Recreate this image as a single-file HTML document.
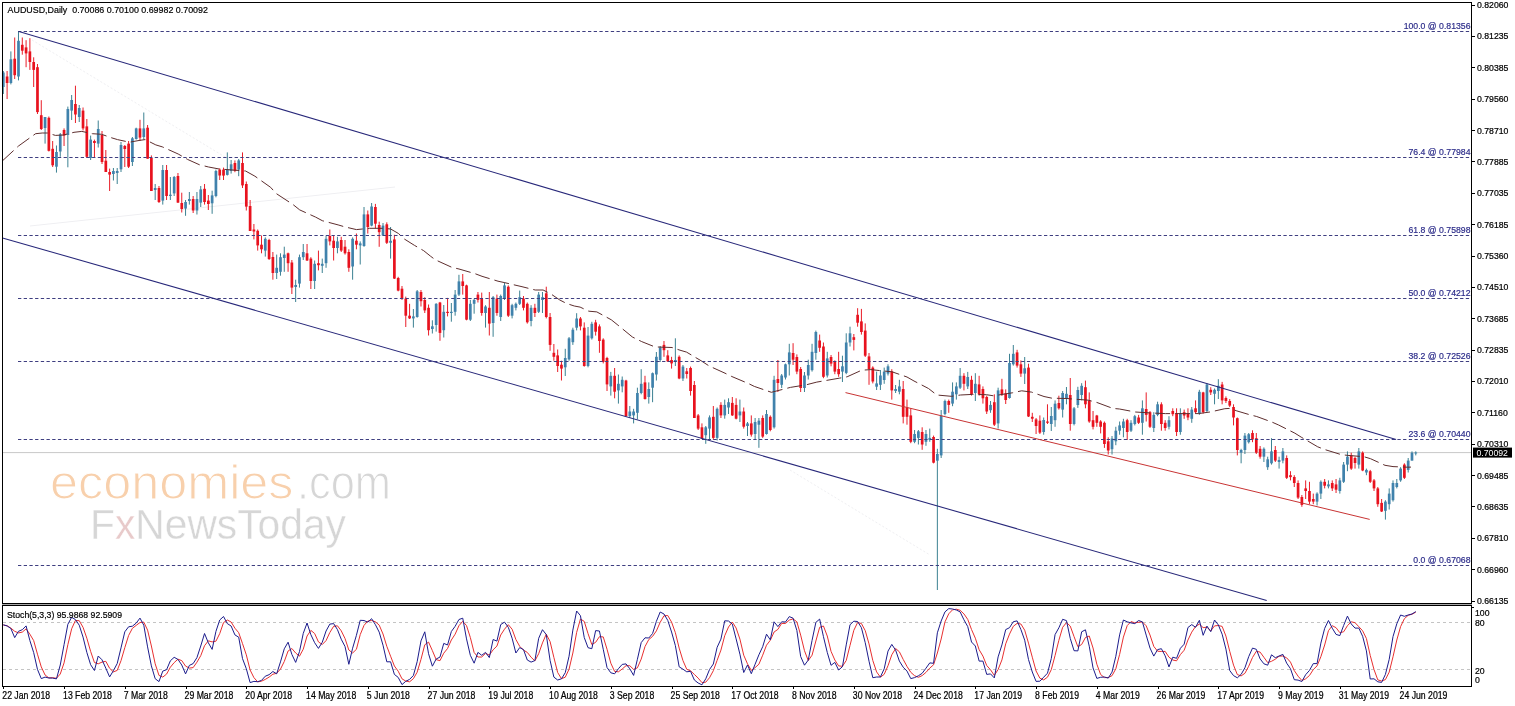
<!DOCTYPE html><html><head><meta charset="utf-8"><title>AUDUSD,Daily</title><style>html,body{margin:0;padding:0;background:#fff;}svg{display:block;filter:blur(0.35px);}text{font-family:"Liberation Sans", Arial, sans-serif;}</style></head><body>
<svg width="1515" height="706" viewBox="0 0 1515 706">
<rect x="0" y="0" width="1515" height="706" fill="#fff"/>
<g stroke="#efeff2" stroke-width="1" fill="none">
<line x1="30" y1="226" x2="395" y2="187"/>
<line x1="32" y1="40" x2="230" y2="160" stroke-dasharray="2 2"/>
<line x1="790" y1="470" x2="930" y2="555" stroke-dasharray="2 2"/>
</g>
<line x1="2" y1="452.6" x2="1471" y2="452.6" stroke="#c8c8c8" stroke-width="1"/>
<g opacity="1">
<text x="50" y="499.2" font-size="49" fill="#f8d0ac" stroke="#fff" stroke-width="1.1" textLength="243.5" lengthAdjust="spacingAndGlyphs">economies</text>
<text x="297" y="499.2" font-size="49" fill="#d6d6d6" stroke="#fff" stroke-width="1.1" textLength="94" lengthAdjust="spacingAndGlyphs">.com</text>
<text x="90" y="539.3" font-size="42.2" fill="#d6d6d6" stroke="#fff" stroke-width="0.4" textLength="256" lengthAdjust="spacingAndGlyphs">F<tspan fill="#e8caca">x</tspan>NewsToday</text>
</g>
<g>
<line x1="3.30" y1="71.0" x2="3.30" y2="94.0" stroke="#317a8c" stroke-width="0.95"/>
<rect x="1.95" y="72.5" width="2.7" height="14.5" fill="#4082ac"/>
<line x1="7.10" y1="71.0" x2="7.10" y2="99.0" stroke="#e8121e" stroke-width="0.95"/>
<rect x="5.75" y="76.5" width="2.7" height="6.5" fill="#e8121e"/>
<line x1="10.89" y1="51.4" x2="10.89" y2="84.4" stroke="#317a8c" stroke-width="0.95"/>
<rect x="9.54" y="59.3" width="2.7" height="23.7" fill="#4082ac"/>
<line x1="14.69" y1="37.5" x2="14.69" y2="79.0" stroke="#e8121e" stroke-width="0.95"/>
<rect x="13.34" y="58.7" width="2.7" height="16.5" fill="#e8121e"/>
<line x1="18.49" y1="31.0" x2="18.49" y2="80.4" stroke="#317a8c" stroke-width="0.95"/>
<rect x="17.14" y="40.8" width="2.7" height="35.7" fill="#4082ac"/>
<line x1="22.29" y1="37.5" x2="22.29" y2="54.7" stroke="#e8121e" stroke-width="0.95"/>
<rect x="20.93" y="44.8" width="2.7" height="5.9" fill="#e8121e"/>
<line x1="26.08" y1="40.2" x2="26.08" y2="67.2" stroke="#e8121e" stroke-width="0.95"/>
<rect x="24.73" y="47.4" width="2.7" height="6.0" fill="#e8121e"/>
<line x1="29.88" y1="38.2" x2="29.88" y2="69.9" stroke="#e8121e" stroke-width="0.95"/>
<rect x="28.53" y="51.4" width="2.7" height="10.6" fill="#e8121e"/>
<line x1="33.68" y1="57.3" x2="33.68" y2="87.0" stroke="#e8121e" stroke-width="0.95"/>
<rect x="32.33" y="62.0" width="2.7" height="7.9" fill="#e8121e"/>
<line x1="37.47" y1="64.0" x2="37.47" y2="114.0" stroke="#e8121e" stroke-width="0.95"/>
<rect x="36.12" y="67.2" width="2.7" height="44.9" fill="#e8121e"/>
<line x1="41.27" y1="100.2" x2="41.27" y2="130.0" stroke="#e8121e" stroke-width="0.95"/>
<rect x="39.92" y="115.2" width="2.7" height="13.8" fill="#e8121e"/>
<line x1="45.07" y1="117.0" x2="45.07" y2="143.6" stroke="#317a8c" stroke-width="0.95"/>
<rect x="43.72" y="117.0" width="2.7" height="11.0" fill="#4082ac"/>
<line x1="48.86" y1="116.5" x2="48.86" y2="151.5" stroke="#e8121e" stroke-width="0.95"/>
<rect x="47.51" y="117.8" width="2.7" height="33.0" fill="#e8121e"/>
<line x1="52.66" y1="141.0" x2="52.66" y2="167.0" stroke="#e8121e" stroke-width="0.95"/>
<rect x="51.31" y="148.8" width="2.7" height="16.5" fill="#e8121e"/>
<line x1="56.46" y1="145.5" x2="56.46" y2="172.6" stroke="#317a8c" stroke-width="0.95"/>
<rect x="55.11" y="152.0" width="2.7" height="14.7" fill="#4082ac"/>
<line x1="60.26" y1="133.0" x2="60.26" y2="156.8" stroke="#317a8c" stroke-width="0.95"/>
<rect x="58.91" y="134.3" width="2.7" height="17.2" fill="#4082ac"/>
<line x1="64.05" y1="128.4" x2="64.05" y2="146.0" stroke="#e8121e" stroke-width="0.95"/>
<rect x="62.70" y="130.0" width="2.7" height="5.6" fill="#e8121e"/>
<line x1="67.85" y1="106.6" x2="67.85" y2="167.3" stroke="#317a8c" stroke-width="0.95"/>
<rect x="66.50" y="109.0" width="2.7" height="26.0" fill="#4082ac"/>
<line x1="71.65" y1="95.0" x2="71.65" y2="120.0" stroke="#317a8c" stroke-width="0.95"/>
<rect x="70.30" y="100.0" width="2.7" height="10.6" fill="#4082ac"/>
<line x1="75.44" y1="85.7" x2="75.44" y2="123.0" stroke="#e8121e" stroke-width="0.95"/>
<rect x="74.09" y="104.0" width="2.7" height="10.5" fill="#e8121e"/>
<line x1="79.24" y1="105.0" x2="79.24" y2="122.0" stroke="#317a8c" stroke-width="0.95"/>
<rect x="77.89" y="108.0" width="2.7" height="9.0" fill="#4082ac"/>
<line x1="83.04" y1="107.5" x2="83.04" y2="130.4" stroke="#e8121e" stroke-width="0.95"/>
<rect x="81.69" y="110.6" width="2.7" height="17.8" fill="#e8121e"/>
<line x1="86.83" y1="119.0" x2="86.83" y2="158.0" stroke="#e8121e" stroke-width="0.95"/>
<rect x="85.48" y="126.4" width="2.7" height="30.4" fill="#e8121e"/>
<line x1="90.63" y1="135.6" x2="90.63" y2="160.0" stroke="#317a8c" stroke-width="0.95"/>
<rect x="89.28" y="139.6" width="2.7" height="18.4" fill="#4082ac"/>
<line x1="94.43" y1="139.6" x2="94.43" y2="158.0" stroke="#e8121e" stroke-width="0.95"/>
<rect x="93.08" y="141.0" width="2.7" height="2.0" fill="#e8121e"/>
<line x1="98.22" y1="120.5" x2="98.22" y2="147.5" stroke="#317a8c" stroke-width="0.95"/>
<rect x="96.88" y="129.0" width="2.7" height="14.6" fill="#4082ac"/>
<line x1="102.02" y1="131.0" x2="102.02" y2="164.0" stroke="#e8121e" stroke-width="0.95"/>
<rect x="100.67" y="135.0" width="2.7" height="27.0" fill="#e8121e"/>
<line x1="105.82" y1="150.0" x2="105.82" y2="172.0" stroke="#e8121e" stroke-width="0.95"/>
<rect x="104.47" y="160.7" width="2.7" height="11.3" fill="#e8121e"/>
<line x1="109.62" y1="168.6" x2="109.62" y2="191.0" stroke="#e8121e" stroke-width="0.95"/>
<rect x="108.27" y="172.0" width="2.7" height="2.6" fill="#e8121e"/>
<line x1="113.41" y1="168.0" x2="113.41" y2="180.5" stroke="#317a8c" stroke-width="0.95"/>
<rect x="112.06" y="171.0" width="2.7" height="3.0" fill="#4082ac"/>
<line x1="117.21" y1="168.0" x2="117.21" y2="184.0" stroke="#317a8c" stroke-width="0.95"/>
<rect x="115.86" y="171.0" width="2.7" height="2.0" fill="#4082ac"/>
<line x1="121.01" y1="142.0" x2="121.01" y2="172.0" stroke="#317a8c" stroke-width="0.95"/>
<rect x="119.66" y="145.0" width="2.7" height="24.3" fill="#4082ac"/>
<line x1="124.80" y1="145.0" x2="124.80" y2="167.0" stroke="#e8121e" stroke-width="0.95"/>
<rect x="123.45" y="146.0" width="2.7" height="3.0" fill="#e8121e"/>
<line x1="128.60" y1="141.0" x2="128.60" y2="168.0" stroke="#e8121e" stroke-width="0.95"/>
<rect x="127.25" y="143.6" width="2.7" height="23.1" fill="#e8121e"/>
<line x1="132.40" y1="137.0" x2="132.40" y2="166.0" stroke="#317a8c" stroke-width="0.95"/>
<rect x="131.05" y="138.3" width="2.7" height="23.7" fill="#4082ac"/>
<line x1="136.20" y1="127.7" x2="136.20" y2="139.6" stroke="#317a8c" stroke-width="0.95"/>
<rect x="134.85" y="128.4" width="2.7" height="10.6" fill="#4082ac"/>
<line x1="139.99" y1="119.8" x2="139.99" y2="141.0" stroke="#e8121e" stroke-width="0.95"/>
<rect x="138.64" y="128.4" width="2.7" height="9.2" fill="#e8121e"/>
<line x1="143.79" y1="112.5" x2="143.79" y2="139.6" stroke="#317a8c" stroke-width="0.95"/>
<rect x="142.44" y="128.4" width="2.7" height="8.6" fill="#4082ac"/>
<line x1="147.59" y1="125.0" x2="147.59" y2="158.7" stroke="#e8121e" stroke-width="0.95"/>
<rect x="146.24" y="127.7" width="2.7" height="31.0" fill="#e8121e"/>
<line x1="151.38" y1="155.4" x2="151.38" y2="191.0" stroke="#e8121e" stroke-width="0.95"/>
<rect x="150.03" y="158.0" width="2.7" height="33.0" fill="#e8121e"/>
<line x1="155.18" y1="184.0" x2="155.18" y2="200.0" stroke="#317a8c" stroke-width="0.95"/>
<rect x="153.83" y="188.0" width="2.7" height="2.0" fill="#4082ac"/>
<line x1="158.98" y1="186.0" x2="158.98" y2="203.0" stroke="#e8121e" stroke-width="0.95"/>
<rect x="157.63" y="188.0" width="2.7" height="14.0" fill="#e8121e"/>
<line x1="162.77" y1="165.0" x2="162.77" y2="204.6" stroke="#317a8c" stroke-width="0.95"/>
<rect x="161.42" y="170.0" width="2.7" height="30.6" fill="#4082ac"/>
<line x1="166.57" y1="165.0" x2="166.57" y2="200.0" stroke="#e8121e" stroke-width="0.95"/>
<rect x="165.22" y="170.0" width="2.7" height="26.0" fill="#e8121e"/>
<line x1="170.37" y1="177.0" x2="170.37" y2="200.0" stroke="#317a8c" stroke-width="0.95"/>
<rect x="169.02" y="194.7" width="2.7" height="1.3" fill="#4082ac"/>
<line x1="174.17" y1="176.0" x2="174.17" y2="196.0" stroke="#317a8c" stroke-width="0.95"/>
<rect x="172.82" y="177.0" width="2.7" height="16.4" fill="#4082ac"/>
<line x1="177.96" y1="173.0" x2="177.96" y2="203.0" stroke="#e8121e" stroke-width="0.95"/>
<rect x="176.61" y="176.0" width="2.7" height="26.6" fill="#e8121e"/>
<line x1="181.76" y1="192.7" x2="181.76" y2="212.5" stroke="#e8121e" stroke-width="0.95"/>
<rect x="180.41" y="203.0" width="2.7" height="6.0" fill="#e8121e"/>
<line x1="185.56" y1="200.0" x2="185.56" y2="215.8" stroke="#317a8c" stroke-width="0.95"/>
<rect x="184.21" y="202.0" width="2.7" height="6.6" fill="#4082ac"/>
<line x1="189.35" y1="192.0" x2="189.35" y2="204.6" stroke="#317a8c" stroke-width="0.95"/>
<rect x="188.00" y="199.0" width="2.7" height="2.0" fill="#4082ac"/>
<line x1="193.15" y1="196.0" x2="193.15" y2="213.0" stroke="#e8121e" stroke-width="0.95"/>
<rect x="191.80" y="199.0" width="2.7" height="11.5" fill="#e8121e"/>
<line x1="196.95" y1="192.0" x2="196.95" y2="214.5" stroke="#317a8c" stroke-width="0.95"/>
<rect x="195.60" y="199.0" width="2.7" height="11.5" fill="#4082ac"/>
<line x1="200.74" y1="186.0" x2="200.74" y2="207.0" stroke="#317a8c" stroke-width="0.95"/>
<rect x="199.39" y="189.4" width="2.7" height="13.2" fill="#4082ac"/>
<line x1="204.54" y1="184.0" x2="204.54" y2="204.6" stroke="#e8121e" stroke-width="0.95"/>
<rect x="203.19" y="188.8" width="2.7" height="13.2" fill="#e8121e"/>
<line x1="208.34" y1="195.0" x2="208.34" y2="210.0" stroke="#e8121e" stroke-width="0.95"/>
<rect x="206.99" y="200.6" width="2.7" height="3.4" fill="#e8121e"/>
<line x1="212.14" y1="190.7" x2="212.14" y2="213.8" stroke="#317a8c" stroke-width="0.95"/>
<rect x="210.79" y="195.4" width="2.7" height="7.9" fill="#4082ac"/>
<line x1="215.93" y1="169.6" x2="215.93" y2="197.3" stroke="#317a8c" stroke-width="0.95"/>
<rect x="214.58" y="171.0" width="2.7" height="25.0" fill="#4082ac"/>
<line x1="219.73" y1="168.3" x2="219.73" y2="180.0" stroke="#e8121e" stroke-width="0.95"/>
<rect x="218.38" y="169.6" width="2.7" height="5.9" fill="#e8121e"/>
<line x1="223.53" y1="167.6" x2="223.53" y2="180.0" stroke="#e8121e" stroke-width="0.95"/>
<rect x="222.18" y="169.6" width="2.7" height="6.0" fill="#e8121e"/>
<line x1="227.32" y1="152.4" x2="227.32" y2="175.5" stroke="#317a8c" stroke-width="0.95"/>
<rect x="225.97" y="169.6" width="2.7" height="5.3" fill="#4082ac"/>
<line x1="231.12" y1="160.0" x2="231.12" y2="173.6" stroke="#317a8c" stroke-width="0.95"/>
<rect x="229.77" y="164.3" width="2.7" height="6.7" fill="#4082ac"/>
<line x1="234.92" y1="160.4" x2="234.92" y2="172.2" stroke="#e8121e" stroke-width="0.95"/>
<rect x="233.57" y="163.0" width="2.7" height="8.0" fill="#e8121e"/>
<line x1="238.71" y1="159.0" x2="238.71" y2="176.2" stroke="#317a8c" stroke-width="0.95"/>
<rect x="237.36" y="160.4" width="2.7" height="9.2" fill="#4082ac"/>
<line x1="242.51" y1="152.4" x2="242.51" y2="188.0" stroke="#e8121e" stroke-width="0.95"/>
<rect x="241.16" y="163.0" width="2.7" height="22.4" fill="#e8121e"/>
<line x1="246.31" y1="181.5" x2="246.31" y2="210.5" stroke="#e8121e" stroke-width="0.95"/>
<rect x="244.96" y="184.0" width="2.7" height="22.6" fill="#e8121e"/>
<line x1="250.11" y1="200.0" x2="250.11" y2="231.0" stroke="#e8121e" stroke-width="0.95"/>
<rect x="248.76" y="206.0" width="2.7" height="25.0" fill="#e8121e"/>
<line x1="253.90" y1="224.0" x2="253.90" y2="239.4" stroke="#e8121e" stroke-width="0.95"/>
<rect x="252.55" y="229.5" width="2.7" height="2.0" fill="#e8121e"/>
<line x1="257.70" y1="229.5" x2="257.70" y2="250.6" stroke="#e8121e" stroke-width="0.95"/>
<rect x="256.35" y="230.8" width="2.7" height="14.6" fill="#e8121e"/>
<line x1="261.50" y1="235.5" x2="261.50" y2="253.3" stroke="#e8121e" stroke-width="0.95"/>
<rect x="260.15" y="244.7" width="2.7" height="4.6" fill="#e8121e"/>
<line x1="265.29" y1="237.4" x2="265.29" y2="256.6" stroke="#317a8c" stroke-width="0.95"/>
<rect x="263.94" y="238.8" width="2.7" height="11.8" fill="#4082ac"/>
<line x1="269.09" y1="238.8" x2="269.09" y2="260.0" stroke="#e8121e" stroke-width="0.95"/>
<rect x="267.74" y="240.0" width="2.7" height="19.0" fill="#e8121e"/>
<line x1="272.89" y1="252.0" x2="272.89" y2="279.7" stroke="#e8121e" stroke-width="0.95"/>
<rect x="271.54" y="257.0" width="2.7" height="16.0" fill="#e8121e"/>
<line x1="276.68" y1="254.6" x2="276.68" y2="279.0" stroke="#317a8c" stroke-width="0.95"/>
<rect x="275.33" y="267.8" width="2.7" height="5.2" fill="#4082ac"/>
<line x1="280.48" y1="253.3" x2="280.48" y2="275.7" stroke="#317a8c" stroke-width="0.95"/>
<rect x="279.13" y="257.2" width="2.7" height="14.6" fill="#4082ac"/>
<line x1="284.28" y1="246.7" x2="284.28" y2="271.8" stroke="#317a8c" stroke-width="0.95"/>
<rect x="282.93" y="254.6" width="2.7" height="3.4" fill="#4082ac"/>
<line x1="288.08" y1="252.6" x2="288.08" y2="271.8" stroke="#e8121e" stroke-width="0.95"/>
<rect x="286.73" y="253.3" width="2.7" height="9.9" fill="#e8121e"/>
<line x1="291.87" y1="260.0" x2="291.87" y2="294.0" stroke="#e8121e" stroke-width="0.95"/>
<rect x="290.52" y="262.5" width="2.7" height="25.1" fill="#e8121e"/>
<line x1="295.67" y1="279.7" x2="295.67" y2="302.0" stroke="#317a8c" stroke-width="0.95"/>
<rect x="294.32" y="285.0" width="2.7" height="2.0" fill="#4082ac"/>
<line x1="299.47" y1="254.6" x2="299.47" y2="287.6" stroke="#317a8c" stroke-width="0.95"/>
<rect x="298.12" y="257.2" width="2.7" height="26.4" fill="#4082ac"/>
<line x1="303.26" y1="244.0" x2="303.26" y2="260.0" stroke="#317a8c" stroke-width="0.95"/>
<rect x="301.91" y="252.0" width="2.7" height="5.2" fill="#4082ac"/>
<line x1="307.06" y1="244.0" x2="307.06" y2="261.0" stroke="#e8121e" stroke-width="0.95"/>
<rect x="305.71" y="253.3" width="2.7" height="7.2" fill="#e8121e"/>
<line x1="310.86" y1="257.2" x2="310.86" y2="289.0" stroke="#e8121e" stroke-width="0.95"/>
<rect x="309.51" y="258.6" width="2.7" height="22.4" fill="#e8121e"/>
<line x1="314.65" y1="260.5" x2="314.65" y2="289.0" stroke="#317a8c" stroke-width="0.95"/>
<rect x="313.30" y="263.8" width="2.7" height="17.2" fill="#4082ac"/>
<line x1="318.45" y1="250.6" x2="318.45" y2="270.4" stroke="#e8121e" stroke-width="0.95"/>
<rect x="317.10" y="263.2" width="2.7" height="2.0" fill="#e8121e"/>
<line x1="322.25" y1="258.6" x2="322.25" y2="273.0" stroke="#317a8c" stroke-width="0.95"/>
<rect x="320.90" y="263.8" width="2.7" height="2.0" fill="#4082ac"/>
<line x1="326.05" y1="236.0" x2="326.05" y2="267.8" stroke="#317a8c" stroke-width="0.95"/>
<rect x="324.69" y="238.8" width="2.7" height="24.4" fill="#4082ac"/>
<line x1="329.84" y1="229.5" x2="329.84" y2="245.4" stroke="#e8121e" stroke-width="0.95"/>
<rect x="328.49" y="236.0" width="2.7" height="5.4" fill="#e8121e"/>
<line x1="333.64" y1="236.0" x2="333.64" y2="260.5" stroke="#e8121e" stroke-width="0.95"/>
<rect x="332.29" y="240.7" width="2.7" height="7.3" fill="#e8121e"/>
<line x1="337.44" y1="236.8" x2="337.44" y2="253.3" stroke="#317a8c" stroke-width="0.95"/>
<rect x="336.09" y="241.4" width="2.7" height="6.6" fill="#4082ac"/>
<line x1="341.23" y1="236.8" x2="341.23" y2="252.0" stroke="#e8121e" stroke-width="0.95"/>
<rect x="339.88" y="240.0" width="2.7" height="10.6" fill="#e8121e"/>
<line x1="345.03" y1="240.0" x2="345.03" y2="254.6" stroke="#e8121e" stroke-width="0.95"/>
<rect x="343.68" y="246.7" width="2.7" height="6.6" fill="#e8121e"/>
<line x1="348.83" y1="249.3" x2="348.83" y2="271.8" stroke="#e8121e" stroke-width="0.95"/>
<rect x="347.48" y="252.0" width="2.7" height="15.8" fill="#e8121e"/>
<line x1="352.62" y1="237.4" x2="352.62" y2="279.7" stroke="#317a8c" stroke-width="0.95"/>
<rect x="351.27" y="238.8" width="2.7" height="27.7" fill="#4082ac"/>
<line x1="356.42" y1="233.5" x2="356.42" y2="249.3" stroke="#e8121e" stroke-width="0.95"/>
<rect x="355.07" y="240.7" width="2.7" height="4.0" fill="#e8121e"/>
<line x1="360.22" y1="241.4" x2="360.22" y2="264.5" stroke="#317a8c" stroke-width="0.95"/>
<rect x="358.87" y="243.4" width="2.7" height="2.0" fill="#4082ac"/>
<line x1="364.02" y1="207.0" x2="364.02" y2="246.8" stroke="#317a8c" stroke-width="0.95"/>
<rect x="362.67" y="214.4" width="2.7" height="31.6" fill="#4082ac"/>
<line x1="367.81" y1="210.5" x2="367.81" y2="233.6" stroke="#e8121e" stroke-width="0.95"/>
<rect x="366.46" y="214.4" width="2.7" height="12.6" fill="#e8121e"/>
<line x1="371.61" y1="203.0" x2="371.61" y2="226.3" stroke="#317a8c" stroke-width="0.95"/>
<rect x="370.26" y="206.5" width="2.7" height="19.1" fill="#4082ac"/>
<line x1="375.41" y1="203.9" x2="375.41" y2="228.3" stroke="#e8121e" stroke-width="0.95"/>
<rect x="374.06" y="207.0" width="2.7" height="16.7" fill="#e8121e"/>
<line x1="379.20" y1="221.7" x2="379.20" y2="246.8" stroke="#e8121e" stroke-width="0.95"/>
<rect x="377.85" y="225.0" width="2.7" height="7.2" fill="#e8121e"/>
<line x1="383.00" y1="223.0" x2="383.00" y2="236.0" stroke="#317a8c" stroke-width="0.95"/>
<rect x="381.65" y="225.6" width="2.7" height="9.9" fill="#4082ac"/>
<line x1="386.80" y1="222.3" x2="386.80" y2="244.0" stroke="#e8121e" stroke-width="0.95"/>
<rect x="385.45" y="224.3" width="2.7" height="18.5" fill="#e8121e"/>
<line x1="390.59" y1="227.0" x2="390.59" y2="258.6" stroke="#317a8c" stroke-width="0.95"/>
<rect x="389.24" y="240.8" width="2.7" height="2.0" fill="#4082ac"/>
<line x1="394.39" y1="234.8" x2="394.39" y2="279.0" stroke="#e8121e" stroke-width="0.95"/>
<rect x="393.04" y="239.4" width="2.7" height="39.2" fill="#e8121e"/>
<line x1="398.19" y1="276.8" x2="398.19" y2="291.3" stroke="#e8121e" stroke-width="0.95"/>
<rect x="396.84" y="278.0" width="2.7" height="12.6" fill="#e8121e"/>
<line x1="401.99" y1="286.0" x2="401.99" y2="300.0" stroke="#e8121e" stroke-width="0.95"/>
<rect x="400.63" y="288.7" width="2.7" height="9.9" fill="#e8121e"/>
<line x1="405.78" y1="296.6" x2="405.78" y2="327.0" stroke="#e8121e" stroke-width="0.95"/>
<rect x="404.43" y="298.6" width="2.7" height="17.1" fill="#e8121e"/>
<line x1="409.58" y1="303.8" x2="409.58" y2="319.0" stroke="#e8121e" stroke-width="0.95"/>
<rect x="408.23" y="315.7" width="2.7" height="2.7" fill="#e8121e"/>
<line x1="413.38" y1="309.0" x2="413.38" y2="327.6" stroke="#317a8c" stroke-width="0.95"/>
<rect x="412.03" y="316.4" width="2.7" height="2.0" fill="#4082ac"/>
<line x1="417.17" y1="290.0" x2="417.17" y2="317.7" stroke="#317a8c" stroke-width="0.95"/>
<rect x="415.82" y="291.3" width="2.7" height="25.7" fill="#4082ac"/>
<line x1="420.97" y1="290.0" x2="420.97" y2="306.5" stroke="#e8121e" stroke-width="0.95"/>
<rect x="419.62" y="292.0" width="2.7" height="9.2" fill="#e8121e"/>
<line x1="424.77" y1="297.2" x2="424.77" y2="313.0" stroke="#e8121e" stroke-width="0.95"/>
<rect x="423.42" y="300.0" width="2.7" height="10.4" fill="#e8121e"/>
<line x1="428.56" y1="304.5" x2="428.56" y2="335.5" stroke="#e8121e" stroke-width="0.95"/>
<rect x="427.21" y="307.8" width="2.7" height="22.4" fill="#e8121e"/>
<line x1="432.36" y1="320.3" x2="432.36" y2="333.5" stroke="#317a8c" stroke-width="0.95"/>
<rect x="431.01" y="326.3" width="2.7" height="2.7" fill="#4082ac"/>
<line x1="436.16" y1="303.2" x2="436.16" y2="331.6" stroke="#317a8c" stroke-width="0.95"/>
<rect x="434.81" y="303.8" width="2.7" height="21.2" fill="#4082ac"/>
<line x1="439.96" y1="301.9" x2="439.96" y2="340.8" stroke="#e8121e" stroke-width="0.95"/>
<rect x="438.61" y="302.5" width="2.7" height="30.4" fill="#e8121e"/>
<line x1="443.75" y1="305.0" x2="443.75" y2="337.5" stroke="#317a8c" stroke-width="0.95"/>
<rect x="442.40" y="311.8" width="2.7" height="18.4" fill="#4082ac"/>
<line x1="447.55" y1="297.9" x2="447.55" y2="316.4" stroke="#e8121e" stroke-width="0.95"/>
<rect x="446.20" y="311.8" width="2.7" height="1.2" fill="#e8121e"/>
<line x1="451.35" y1="303.0" x2="451.35" y2="321.7" stroke="#317a8c" stroke-width="0.95"/>
<rect x="450.00" y="311.8" width="2.7" height="1.2" fill="#4082ac"/>
<line x1="455.14" y1="290.0" x2="455.14" y2="315.7" stroke="#317a8c" stroke-width="0.95"/>
<rect x="453.79" y="294.6" width="2.7" height="17.2" fill="#4082ac"/>
<line x1="458.94" y1="274.8" x2="458.94" y2="296.0" stroke="#317a8c" stroke-width="0.95"/>
<rect x="457.59" y="281.4" width="2.7" height="13.2" fill="#4082ac"/>
<line x1="462.74" y1="274.0" x2="462.74" y2="294.6" stroke="#e8121e" stroke-width="0.95"/>
<rect x="461.39" y="281.4" width="2.7" height="4.6" fill="#e8121e"/>
<line x1="466.53" y1="284.7" x2="466.53" y2="320.3" stroke="#e8121e" stroke-width="0.95"/>
<rect x="465.18" y="285.4" width="2.7" height="34.3" fill="#e8121e"/>
<line x1="470.33" y1="299.9" x2="470.33" y2="321.0" stroke="#317a8c" stroke-width="0.95"/>
<rect x="468.98" y="303.8" width="2.7" height="15.9" fill="#4082ac"/>
<line x1="474.13" y1="298.6" x2="474.13" y2="313.7" stroke="#317a8c" stroke-width="0.95"/>
<rect x="472.78" y="299.9" width="2.7" height="3.9" fill="#4082ac"/>
<line x1="477.93" y1="292.0" x2="477.93" y2="302.5" stroke="#e8121e" stroke-width="0.95"/>
<rect x="476.57" y="294.6" width="2.7" height="5.3" fill="#e8121e"/>
<line x1="481.72" y1="292.6" x2="481.72" y2="315.7" stroke="#e8121e" stroke-width="0.95"/>
<rect x="480.37" y="298.6" width="2.7" height="14.4" fill="#e8121e"/>
<line x1="485.52" y1="305.2" x2="485.52" y2="327.6" stroke="#317a8c" stroke-width="0.95"/>
<rect x="484.17" y="306.5" width="2.7" height="6.5" fill="#4082ac"/>
<line x1="489.32" y1="292.0" x2="489.32" y2="335.5" stroke="#e8121e" stroke-width="0.95"/>
<rect x="487.97" y="307.8" width="2.7" height="15.8" fill="#e8121e"/>
<line x1="493.11" y1="296.0" x2="493.11" y2="336.8" stroke="#317a8c" stroke-width="0.95"/>
<rect x="491.76" y="297.2" width="2.7" height="25.8" fill="#4082ac"/>
<line x1="496.91" y1="294.6" x2="496.91" y2="315.7" stroke="#e8121e" stroke-width="0.95"/>
<rect x="495.56" y="298.6" width="2.7" height="14.4" fill="#e8121e"/>
<line x1="500.71" y1="294.6" x2="500.71" y2="321.0" stroke="#317a8c" stroke-width="0.95"/>
<rect x="499.36" y="296.0" width="2.7" height="21.0" fill="#4082ac"/>
<line x1="504.50" y1="282.7" x2="504.50" y2="300.0" stroke="#317a8c" stroke-width="0.95"/>
<rect x="503.15" y="285.4" width="2.7" height="13.2" fill="#4082ac"/>
<line x1="508.30" y1="285.4" x2="508.30" y2="317.0" stroke="#e8121e" stroke-width="0.95"/>
<rect x="506.95" y="286.7" width="2.7" height="29.0" fill="#e8121e"/>
<line x1="512.10" y1="303.8" x2="512.10" y2="318.4" stroke="#317a8c" stroke-width="0.95"/>
<rect x="510.75" y="305.2" width="2.7" height="10.5" fill="#4082ac"/>
<line x1="515.89" y1="302.5" x2="515.89" y2="310.4" stroke="#317a8c" stroke-width="0.95"/>
<rect x="514.54" y="303.8" width="2.7" height="4.0" fill="#4082ac"/>
<line x1="519.69" y1="290.6" x2="519.69" y2="305.0" stroke="#317a8c" stroke-width="0.95"/>
<rect x="518.34" y="297.2" width="2.7" height="6.6" fill="#4082ac"/>
<line x1="523.49" y1="296.0" x2="523.49" y2="310.4" stroke="#e8121e" stroke-width="0.95"/>
<rect x="522.14" y="298.6" width="2.7" height="9.2" fill="#e8121e"/>
<line x1="527.29" y1="302.5" x2="527.29" y2="323.6" stroke="#e8121e" stroke-width="0.95"/>
<rect x="525.94" y="303.8" width="2.7" height="18.5" fill="#e8121e"/>
<line x1="531.08" y1="305.2" x2="531.08" y2="326.3" stroke="#317a8c" stroke-width="0.95"/>
<rect x="529.73" y="307.8" width="2.7" height="13.2" fill="#4082ac"/>
<line x1="534.88" y1="303.8" x2="534.88" y2="317.0" stroke="#e8121e" stroke-width="0.95"/>
<rect x="533.53" y="307.8" width="2.7" height="5.2" fill="#e8121e"/>
<line x1="538.68" y1="292.0" x2="538.68" y2="313.0" stroke="#317a8c" stroke-width="0.95"/>
<rect x="537.33" y="294.6" width="2.7" height="17.2" fill="#4082ac"/>
<line x1="542.47" y1="292.0" x2="542.47" y2="313.0" stroke="#317a8c" stroke-width="0.95"/>
<rect x="541.12" y="297.2" width="2.7" height="2.8" fill="#4082ac"/>
<line x1="546.27" y1="286.7" x2="546.27" y2="318.4" stroke="#e8121e" stroke-width="0.95"/>
<rect x="544.92" y="293.3" width="2.7" height="23.7" fill="#e8121e"/>
<line x1="550.07" y1="313.0" x2="550.07" y2="350.8" stroke="#e8121e" stroke-width="0.95"/>
<rect x="548.72" y="317.0" width="2.7" height="27.9" fill="#e8121e"/>
<line x1="553.87" y1="344.0" x2="553.87" y2="360.7" stroke="#e8121e" stroke-width="0.95"/>
<rect x="552.51" y="352.8" width="2.7" height="4.0" fill="#e8121e"/>
<line x1="557.66" y1="349.5" x2="557.66" y2="372.0" stroke="#e8121e" stroke-width="0.95"/>
<rect x="556.31" y="355.4" width="2.7" height="10.6" fill="#e8121e"/>
<line x1="561.46" y1="360.7" x2="561.46" y2="380.5" stroke="#e8121e" stroke-width="0.95"/>
<rect x="560.11" y="364.7" width="2.7" height="3.9" fill="#e8121e"/>
<line x1="565.26" y1="348.8" x2="565.26" y2="376.0" stroke="#317a8c" stroke-width="0.95"/>
<rect x="563.91" y="358.0" width="2.7" height="9.3" fill="#4082ac"/>
<line x1="569.05" y1="337.0" x2="569.05" y2="360.7" stroke="#317a8c" stroke-width="0.95"/>
<rect x="567.70" y="338.3" width="2.7" height="21.1" fill="#4082ac"/>
<line x1="572.85" y1="327.7" x2="572.85" y2="344.9" stroke="#317a8c" stroke-width="0.95"/>
<rect x="571.50" y="329.7" width="2.7" height="12.5" fill="#4082ac"/>
<line x1="576.65" y1="313.2" x2="576.65" y2="330.4" stroke="#317a8c" stroke-width="0.95"/>
<rect x="575.30" y="318.5" width="2.7" height="9.2" fill="#4082ac"/>
<line x1="580.44" y1="317.0" x2="580.44" y2="330.4" stroke="#e8121e" stroke-width="0.95"/>
<rect x="579.09" y="318.5" width="2.7" height="7.9" fill="#e8121e"/>
<line x1="584.24" y1="322.4" x2="584.24" y2="366.7" stroke="#e8121e" stroke-width="0.95"/>
<rect x="582.89" y="327.7" width="2.7" height="38.3" fill="#e8121e"/>
<line x1="588.04" y1="327.0" x2="588.04" y2="367.3" stroke="#317a8c" stroke-width="0.95"/>
<rect x="586.69" y="335.6" width="2.7" height="30.4" fill="#4082ac"/>
<line x1="591.83" y1="321.8" x2="591.83" y2="339.6" stroke="#317a8c" stroke-width="0.95"/>
<rect x="590.48" y="323.8" width="2.7" height="14.5" fill="#4082ac"/>
<line x1="595.63" y1="319.8" x2="595.63" y2="335.6" stroke="#e8121e" stroke-width="0.95"/>
<rect x="594.28" y="322.4" width="2.7" height="9.3" fill="#e8121e"/>
<line x1="599.43" y1="324.4" x2="599.43" y2="352.8" stroke="#e8121e" stroke-width="0.95"/>
<rect x="598.08" y="326.4" width="2.7" height="14.6" fill="#e8121e"/>
<line x1="603.23" y1="338.3" x2="603.23" y2="363.4" stroke="#e8121e" stroke-width="0.95"/>
<rect x="601.88" y="339.6" width="2.7" height="22.4" fill="#e8121e"/>
<line x1="607.02" y1="356.8" x2="607.02" y2="391.0" stroke="#e8121e" stroke-width="0.95"/>
<rect x="605.67" y="358.0" width="2.7" height="26.4" fill="#e8121e"/>
<line x1="610.82" y1="371.9" x2="610.82" y2="395.6" stroke="#317a8c" stroke-width="0.95"/>
<rect x="609.47" y="375.8" width="2.7" height="10.6" fill="#4082ac"/>
<line x1="614.62" y1="368.0" x2="614.62" y2="398.3" stroke="#e8121e" stroke-width="0.95"/>
<rect x="613.27" y="375.8" width="2.7" height="15.9" fill="#e8121e"/>
<line x1="618.41" y1="374.5" x2="618.41" y2="403.6" stroke="#317a8c" stroke-width="0.95"/>
<rect x="617.06" y="383.8" width="2.7" height="6.6" fill="#4082ac"/>
<line x1="622.21" y1="376.5" x2="622.21" y2="392.3" stroke="#317a8c" stroke-width="0.95"/>
<rect x="620.86" y="379.8" width="2.7" height="6.6" fill="#4082ac"/>
<line x1="626.01" y1="379.8" x2="626.01" y2="416.8" stroke="#e8121e" stroke-width="0.95"/>
<rect x="624.66" y="380.5" width="2.7" height="35.6" fill="#e8121e"/>
<line x1="629.80" y1="406.0" x2="629.80" y2="418.0" stroke="#317a8c" stroke-width="0.95"/>
<rect x="628.45" y="411.5" width="2.7" height="4.6" fill="#4082ac"/>
<line x1="633.60" y1="408.8" x2="633.60" y2="423.4" stroke="#317a8c" stroke-width="0.95"/>
<rect x="632.25" y="411.5" width="2.7" height="3.9" fill="#4082ac"/>
<line x1="637.40" y1="387.7" x2="637.40" y2="419.4" stroke="#317a8c" stroke-width="0.95"/>
<rect x="636.05" y="393.0" width="2.7" height="19.8" fill="#4082ac"/>
<line x1="641.20" y1="369.2" x2="641.20" y2="394.3" stroke="#317a8c" stroke-width="0.95"/>
<rect x="639.85" y="383.8" width="2.7" height="9.2" fill="#4082ac"/>
<line x1="644.99" y1="375.8" x2="644.99" y2="399.6" stroke="#e8121e" stroke-width="0.95"/>
<rect x="643.64" y="382.4" width="2.7" height="16.6" fill="#e8121e"/>
<line x1="648.79" y1="382.4" x2="648.79" y2="403.6" stroke="#317a8c" stroke-width="0.95"/>
<rect x="647.44" y="389.0" width="2.7" height="8.0" fill="#4082ac"/>
<line x1="652.59" y1="372.5" x2="652.59" y2="402.2" stroke="#317a8c" stroke-width="0.95"/>
<rect x="651.24" y="373.2" width="2.7" height="14.5" fill="#4082ac"/>
<line x1="656.38" y1="352.0" x2="656.38" y2="380.5" stroke="#317a8c" stroke-width="0.95"/>
<rect x="655.03" y="356.8" width="2.7" height="17.7" fill="#4082ac"/>
<line x1="660.18" y1="346.0" x2="660.18" y2="362.0" stroke="#317a8c" stroke-width="0.95"/>
<rect x="658.83" y="347.5" width="2.7" height="12.5" fill="#4082ac"/>
<line x1="663.98" y1="341.0" x2="663.98" y2="356.8" stroke="#e8121e" stroke-width="0.95"/>
<rect x="662.63" y="344.9" width="2.7" height="5.3" fill="#e8121e"/>
<line x1="667.77" y1="350.2" x2="667.77" y2="362.0" stroke="#e8121e" stroke-width="0.95"/>
<rect x="666.42" y="355.4" width="2.7" height="6.0" fill="#e8121e"/>
<line x1="671.57" y1="356.8" x2="671.57" y2="368.6" stroke="#e8121e" stroke-width="0.95"/>
<rect x="670.22" y="360.0" width="2.7" height="3.4" fill="#e8121e"/>
<line x1="675.37" y1="338.3" x2="675.37" y2="366.0" stroke="#317a8c" stroke-width="0.95"/>
<rect x="674.02" y="360.0" width="2.7" height="2.0" fill="#4082ac"/>
<line x1="679.17" y1="355.4" x2="679.17" y2="379.2" stroke="#e8121e" stroke-width="0.95"/>
<rect x="677.82" y="356.8" width="2.7" height="21.7" fill="#e8121e"/>
<line x1="682.96" y1="365.0" x2="682.96" y2="381.0" stroke="#317a8c" stroke-width="0.95"/>
<rect x="681.61" y="366.6" width="2.7" height="11.9" fill="#4082ac"/>
<line x1="686.76" y1="368.0" x2="686.76" y2="378.5" stroke="#e8121e" stroke-width="0.95"/>
<rect x="685.41" y="371.3" width="2.7" height="2.7" fill="#e8121e"/>
<line x1="690.56" y1="366.6" x2="690.56" y2="395.6" stroke="#e8121e" stroke-width="0.95"/>
<rect x="689.21" y="368.0" width="2.7" height="23.0" fill="#e8121e"/>
<line x1="694.35" y1="381.0" x2="694.35" y2="418.0" stroke="#e8121e" stroke-width="0.95"/>
<rect x="693.00" y="385.0" width="2.7" height="33.0" fill="#e8121e"/>
<line x1="698.15" y1="414.0" x2="698.15" y2="430.0" stroke="#e8121e" stroke-width="0.95"/>
<rect x="696.80" y="415.4" width="2.7" height="13.2" fill="#e8121e"/>
<line x1="701.95" y1="423.4" x2="701.95" y2="439.2" stroke="#e8121e" stroke-width="0.95"/>
<rect x="700.60" y="427.3" width="2.7" height="11.2" fill="#e8121e"/>
<line x1="705.75" y1="426.0" x2="705.75" y2="443.8" stroke="#317a8c" stroke-width="0.95"/>
<rect x="704.39" y="427.3" width="2.7" height="7.9" fill="#4082ac"/>
<line x1="709.54" y1="415.4" x2="709.54" y2="439.2" stroke="#317a8c" stroke-width="0.95"/>
<rect x="708.19" y="417.4" width="2.7" height="11.2" fill="#4082ac"/>
<line x1="713.34" y1="406.0" x2="713.34" y2="439.9" stroke="#e8121e" stroke-width="0.95"/>
<rect x="711.99" y="416.8" width="2.7" height="21.1" fill="#e8121e"/>
<line x1="717.14" y1="407.5" x2="717.14" y2="440.5" stroke="#317a8c" stroke-width="0.95"/>
<rect x="715.79" y="408.8" width="2.7" height="29.1" fill="#4082ac"/>
<line x1="720.93" y1="402.2" x2="720.93" y2="418.0" stroke="#e8121e" stroke-width="0.95"/>
<rect x="719.58" y="404.9" width="2.7" height="10.5" fill="#e8121e"/>
<line x1="724.73" y1="399.6" x2="724.73" y2="418.7" stroke="#317a8c" stroke-width="0.95"/>
<rect x="723.38" y="404.9" width="2.7" height="10.5" fill="#4082ac"/>
<line x1="728.53" y1="398.3" x2="728.53" y2="414.0" stroke="#317a8c" stroke-width="0.95"/>
<rect x="727.18" y="402.2" width="2.7" height="5.3" fill="#4082ac"/>
<line x1="732.32" y1="397.0" x2="732.32" y2="416.0" stroke="#e8121e" stroke-width="0.95"/>
<rect x="730.97" y="402.9" width="2.7" height="12.5" fill="#e8121e"/>
<line x1="736.12" y1="398.3" x2="736.12" y2="419.4" stroke="#e8121e" stroke-width="0.95"/>
<rect x="734.77" y="404.9" width="2.7" height="13.8" fill="#e8121e"/>
<line x1="739.92" y1="399.6" x2="739.92" y2="422.0" stroke="#317a8c" stroke-width="0.95"/>
<rect x="738.57" y="411.5" width="2.7" height="3.9" fill="#4082ac"/>
<line x1="743.72" y1="407.5" x2="743.72" y2="428.6" stroke="#e8121e" stroke-width="0.95"/>
<rect x="742.37" y="411.5" width="2.7" height="15.2" fill="#e8121e"/>
<line x1="747.51" y1="422.0" x2="747.51" y2="436.0" stroke="#317a8c" stroke-width="0.95"/>
<rect x="746.16" y="423.4" width="2.7" height="2.6" fill="#4082ac"/>
<line x1="751.31" y1="415.4" x2="751.31" y2="436.6" stroke="#e8121e" stroke-width="0.95"/>
<rect x="749.96" y="423.4" width="2.7" height="11.2" fill="#e8121e"/>
<line x1="755.11" y1="418.0" x2="755.11" y2="439.2" stroke="#317a8c" stroke-width="0.95"/>
<rect x="753.76" y="422.0" width="2.7" height="12.0" fill="#4082ac"/>
<line x1="758.90" y1="418.0" x2="758.90" y2="447.8" stroke="#317a8c" stroke-width="0.95"/>
<rect x="757.55" y="420.7" width="2.7" height="4.0" fill="#4082ac"/>
<line x1="762.70" y1="415.4" x2="762.70" y2="437.9" stroke="#e8121e" stroke-width="0.95"/>
<rect x="761.35" y="418.0" width="2.7" height="18.6" fill="#e8121e"/>
<line x1="766.50" y1="410.0" x2="766.50" y2="434.6" stroke="#317a8c" stroke-width="0.95"/>
<rect x="765.15" y="414.0" width="2.7" height="20.0" fill="#4082ac"/>
<line x1="770.29" y1="415.4" x2="770.29" y2="431.3" stroke="#e8121e" stroke-width="0.95"/>
<rect x="768.94" y="416.8" width="2.7" height="13.2" fill="#e8121e"/>
<line x1="774.09" y1="375.8" x2="774.09" y2="428.6" stroke="#317a8c" stroke-width="0.95"/>
<rect x="772.74" y="379.8" width="2.7" height="47.5" fill="#4082ac"/>
<line x1="777.89" y1="360.0" x2="777.89" y2="392.0" stroke="#e8121e" stroke-width="0.95"/>
<rect x="776.54" y="379.0" width="2.7" height="4.0" fill="#e8121e"/>
<line x1="781.68" y1="374.0" x2="781.68" y2="388.0" stroke="#317a8c" stroke-width="0.95"/>
<rect x="780.33" y="375.5" width="2.7" height="9.3" fill="#4082ac"/>
<line x1="785.48" y1="363.6" x2="785.48" y2="379.5" stroke="#317a8c" stroke-width="0.95"/>
<rect x="784.13" y="364.3" width="2.7" height="13.2" fill="#4082ac"/>
<line x1="789.28" y1="343.8" x2="789.28" y2="375.5" stroke="#317a8c" stroke-width="0.95"/>
<rect x="787.93" y="352.4" width="2.7" height="11.9" fill="#4082ac"/>
<line x1="793.08" y1="343.2" x2="793.08" y2="365.0" stroke="#e8121e" stroke-width="0.95"/>
<rect x="791.73" y="353.0" width="2.7" height="6.7" fill="#e8121e"/>
<line x1="796.87" y1="354.4" x2="796.87" y2="374.2" stroke="#e8121e" stroke-width="0.95"/>
<rect x="795.52" y="357.0" width="2.7" height="14.6" fill="#e8121e"/>
<line x1="800.67" y1="367.0" x2="800.67" y2="392.0" stroke="#e8121e" stroke-width="0.95"/>
<rect x="799.32" y="369.0" width="2.7" height="19.0" fill="#e8121e"/>
<line x1="804.47" y1="372.0" x2="804.47" y2="392.0" stroke="#317a8c" stroke-width="0.95"/>
<rect x="803.12" y="375.5" width="2.7" height="12.5" fill="#4082ac"/>
<line x1="808.26" y1="359.7" x2="808.26" y2="379.5" stroke="#317a8c" stroke-width="0.95"/>
<rect x="806.91" y="365.0" width="2.7" height="10.5" fill="#4082ac"/>
<line x1="812.06" y1="343.8" x2="812.06" y2="371.6" stroke="#317a8c" stroke-width="0.95"/>
<rect x="810.71" y="351.8" width="2.7" height="18.4" fill="#4082ac"/>
<line x1="815.86" y1="330.6" x2="815.86" y2="359.7" stroke="#317a8c" stroke-width="0.95"/>
<rect x="814.51" y="332.0" width="2.7" height="21.0" fill="#4082ac"/>
<line x1="819.65" y1="334.6" x2="819.65" y2="351.8" stroke="#e8121e" stroke-width="0.95"/>
<rect x="818.30" y="340.5" width="2.7" height="7.3" fill="#e8121e"/>
<line x1="823.45" y1="342.5" x2="823.45" y2="378.2" stroke="#e8121e" stroke-width="0.95"/>
<rect x="822.10" y="346.5" width="2.7" height="30.3" fill="#e8121e"/>
<line x1="827.25" y1="351.8" x2="827.25" y2="377.5" stroke="#317a8c" stroke-width="0.95"/>
<rect x="825.90" y="358.4" width="2.7" height="17.1" fill="#4082ac"/>
<line x1="831.05" y1="355.0" x2="831.05" y2="366.3" stroke="#e8121e" stroke-width="0.95"/>
<rect x="829.70" y="357.0" width="2.7" height="6.6" fill="#e8121e"/>
<line x1="834.84" y1="360.3" x2="834.84" y2="374.2" stroke="#e8121e" stroke-width="0.95"/>
<rect x="833.49" y="361.7" width="2.7" height="9.9" fill="#e8121e"/>
<line x1="838.64" y1="351.8" x2="838.64" y2="376.8" stroke="#e8121e" stroke-width="0.95"/>
<rect x="837.29" y="369.0" width="2.7" height="5.2" fill="#e8121e"/>
<line x1="842.44" y1="355.7" x2="842.44" y2="382.0" stroke="#317a8c" stroke-width="0.95"/>
<rect x="841.09" y="366.3" width="2.7" height="5.3" fill="#4082ac"/>
<line x1="846.23" y1="333.3" x2="846.23" y2="374.2" stroke="#317a8c" stroke-width="0.95"/>
<rect x="844.88" y="342.5" width="2.7" height="30.4" fill="#4082ac"/>
<line x1="850.03" y1="326.7" x2="850.03" y2="346.5" stroke="#317a8c" stroke-width="0.95"/>
<rect x="848.68" y="333.3" width="2.7" height="9.2" fill="#4082ac"/>
<line x1="853.83" y1="334.0" x2="853.83" y2="350.4" stroke="#e8121e" stroke-width="0.95"/>
<rect x="852.48" y="337.2" width="2.7" height="2.7" fill="#e8121e"/>
<line x1="857.62" y1="308.2" x2="857.62" y2="326.7" stroke="#e8121e" stroke-width="0.95"/>
<rect x="856.27" y="314.8" width="2.7" height="7.9" fill="#e8121e"/>
<line x1="861.42" y1="308.9" x2="861.42" y2="334.6" stroke="#e8121e" stroke-width="0.95"/>
<rect x="860.07" y="321.4" width="2.7" height="10.6" fill="#e8121e"/>
<line x1="865.22" y1="323.4" x2="865.22" y2="357.0" stroke="#e8121e" stroke-width="0.95"/>
<rect x="863.87" y="330.6" width="2.7" height="25.1" fill="#e8121e"/>
<line x1="869.02" y1="353.0" x2="869.02" y2="384.8" stroke="#e8121e" stroke-width="0.95"/>
<rect x="867.67" y="356.4" width="2.7" height="12.6" fill="#e8121e"/>
<line x1="872.81" y1="366.3" x2="872.81" y2="383.4" stroke="#e8121e" stroke-width="0.95"/>
<rect x="871.46" y="367.6" width="2.7" height="13.9" fill="#e8121e"/>
<line x1="876.61" y1="371.6" x2="876.61" y2="390.0" stroke="#317a8c" stroke-width="0.95"/>
<rect x="875.26" y="383.4" width="2.7" height="3.3" fill="#4082ac"/>
<line x1="880.41" y1="370.0" x2="880.41" y2="390.0" stroke="#317a8c" stroke-width="0.95"/>
<rect x="879.06" y="375.5" width="2.7" height="9.3" fill="#4082ac"/>
<line x1="884.20" y1="367.6" x2="884.20" y2="383.8" stroke="#317a8c" stroke-width="0.95"/>
<rect x="882.85" y="371.6" width="2.7" height="8.4" fill="#4082ac"/>
<line x1="888.00" y1="364.3" x2="888.00" y2="375.5" stroke="#317a8c" stroke-width="0.95"/>
<rect x="886.65" y="366.3" width="2.7" height="7.3" fill="#4082ac"/>
<line x1="891.80" y1="369.2" x2="891.80" y2="399.6" stroke="#e8121e" stroke-width="0.95"/>
<rect x="890.45" y="371.4" width="2.7" height="19.0" fill="#e8121e"/>
<line x1="895.60" y1="385.0" x2="895.60" y2="393.0" stroke="#317a8c" stroke-width="0.95"/>
<rect x="894.25" y="389.0" width="2.7" height="2.0" fill="#4082ac"/>
<line x1="899.39" y1="379.8" x2="899.39" y2="394.3" stroke="#317a8c" stroke-width="0.95"/>
<rect x="898.04" y="386.4" width="2.7" height="5.3" fill="#4082ac"/>
<line x1="903.19" y1="381.0" x2="903.19" y2="423.4" stroke="#e8121e" stroke-width="0.95"/>
<rect x="901.84" y="389.0" width="2.7" height="27.8" fill="#e8121e"/>
<line x1="906.99" y1="399.6" x2="906.99" y2="424.7" stroke="#e8121e" stroke-width="0.95"/>
<rect x="905.64" y="407.5" width="2.7" height="9.3" fill="#e8121e"/>
<line x1="910.78" y1="408.2" x2="910.78" y2="443.2" stroke="#e8121e" stroke-width="0.95"/>
<rect x="909.43" y="415.4" width="2.7" height="26.4" fill="#e8121e"/>
<line x1="914.58" y1="430.0" x2="914.58" y2="443.2" stroke="#317a8c" stroke-width="0.95"/>
<rect x="913.23" y="434.0" width="2.7" height="7.8" fill="#4082ac"/>
<line x1="918.38" y1="430.0" x2="918.38" y2="444.5" stroke="#317a8c" stroke-width="0.95"/>
<rect x="917.03" y="431.3" width="2.7" height="6.6" fill="#4082ac"/>
<line x1="922.17" y1="427.3" x2="922.17" y2="449.8" stroke="#e8121e" stroke-width="0.95"/>
<rect x="920.82" y="432.0" width="2.7" height="12.5" fill="#e8121e"/>
<line x1="925.97" y1="430.0" x2="925.97" y2="445.8" stroke="#317a8c" stroke-width="0.95"/>
<rect x="924.62" y="434.0" width="2.7" height="7.8" fill="#4082ac"/>
<line x1="929.77" y1="428.6" x2="929.77" y2="441.8" stroke="#317a8c" stroke-width="0.95"/>
<rect x="928.42" y="437.9" width="2.7" height="2.0" fill="#4082ac"/>
<line x1="933.56" y1="435.6" x2="933.56" y2="463.4" stroke="#e8121e" stroke-width="0.95"/>
<rect x="932.21" y="437.0" width="2.7" height="25.7" fill="#e8121e"/>
<line x1="937.36" y1="448.8" x2="937.36" y2="590.0" stroke="#317a8c" stroke-width="0.95"/>
<rect x="936.01" y="454.0" width="2.7" height="6.7" fill="#4082ac"/>
<line x1="941.16" y1="410.0" x2="941.16" y2="458.0" stroke="#317a8c" stroke-width="0.95"/>
<rect x="939.81" y="415.6" width="2.7" height="39.8" fill="#4082ac"/>
<line x1="944.96" y1="399.6" x2="944.96" y2="415.4" stroke="#317a8c" stroke-width="0.95"/>
<rect x="943.61" y="401.0" width="2.7" height="13.0" fill="#4082ac"/>
<line x1="948.75" y1="399.6" x2="948.75" y2="412.8" stroke="#e8121e" stroke-width="0.95"/>
<rect x="947.40" y="401.0" width="2.7" height="3.9" fill="#e8121e"/>
<line x1="952.55" y1="382.4" x2="952.55" y2="406.2" stroke="#317a8c" stroke-width="0.95"/>
<rect x="951.20" y="391.7" width="2.7" height="11.9" fill="#4082ac"/>
<line x1="956.35" y1="382.4" x2="956.35" y2="399.6" stroke="#317a8c" stroke-width="0.95"/>
<rect x="955.00" y="386.4" width="2.7" height="7.9" fill="#4082ac"/>
<line x1="960.14" y1="368.0" x2="960.14" y2="389.0" stroke="#317a8c" stroke-width="0.95"/>
<rect x="958.79" y="375.8" width="2.7" height="11.9" fill="#4082ac"/>
<line x1="963.94" y1="373.2" x2="963.94" y2="390.4" stroke="#e8121e" stroke-width="0.95"/>
<rect x="962.59" y="375.8" width="2.7" height="8.0" fill="#e8121e"/>
<line x1="967.74" y1="371.9" x2="967.74" y2="389.0" stroke="#317a8c" stroke-width="0.95"/>
<rect x="966.39" y="377.0" width="2.7" height="9.4" fill="#4082ac"/>
<line x1="971.53" y1="375.8" x2="971.53" y2="395.6" stroke="#e8121e" stroke-width="0.95"/>
<rect x="970.18" y="379.8" width="2.7" height="14.5" fill="#e8121e"/>
<line x1="975.33" y1="373.2" x2="975.33" y2="401.0" stroke="#317a8c" stroke-width="0.95"/>
<rect x="973.98" y="383.8" width="2.7" height="9.2" fill="#4082ac"/>
<line x1="979.13" y1="375.8" x2="979.13" y2="395.6" stroke="#e8121e" stroke-width="0.95"/>
<rect x="977.78" y="384.4" width="2.7" height="9.9" fill="#e8121e"/>
<line x1="982.93" y1="386.4" x2="982.93" y2="403.6" stroke="#e8121e" stroke-width="0.95"/>
<rect x="981.58" y="389.0" width="2.7" height="9.3" fill="#e8121e"/>
<line x1="986.72" y1="395.6" x2="986.72" y2="414.0" stroke="#e8121e" stroke-width="0.95"/>
<rect x="985.37" y="397.0" width="2.7" height="14.5" fill="#e8121e"/>
<line x1="990.52" y1="401.0" x2="990.52" y2="412.8" stroke="#317a8c" stroke-width="0.95"/>
<rect x="989.17" y="404.9" width="2.7" height="5.3" fill="#4082ac"/>
<line x1="994.32" y1="394.3" x2="994.32" y2="426.0" stroke="#e8121e" stroke-width="0.95"/>
<rect x="992.97" y="402.2" width="2.7" height="22.5" fill="#e8121e"/>
<line x1="998.11" y1="387.7" x2="998.11" y2="428.6" stroke="#317a8c" stroke-width="0.95"/>
<rect x="996.76" y="390.4" width="2.7" height="33.0" fill="#4082ac"/>
<line x1="1001.91" y1="378.8" x2="1001.91" y2="396.0" stroke="#e8121e" stroke-width="0.95"/>
<rect x="1000.56" y="389.4" width="2.7" height="5.1" fill="#e8121e"/>
<line x1="1005.71" y1="389.4" x2="1005.71" y2="404.0" stroke="#e8121e" stroke-width="0.95"/>
<rect x="1004.36" y="393.4" width="2.7" height="6.6" fill="#e8121e"/>
<line x1="1009.50" y1="353.8" x2="1009.50" y2="398.6" stroke="#317a8c" stroke-width="0.95"/>
<rect x="1008.15" y="363.0" width="2.7" height="35.0" fill="#4082ac"/>
<line x1="1013.30" y1="345.0" x2="1013.30" y2="365.6" stroke="#317a8c" stroke-width="0.95"/>
<rect x="1011.95" y="353.8" width="2.7" height="10.5" fill="#4082ac"/>
<line x1="1017.10" y1="349.8" x2="1017.10" y2="367.6" stroke="#e8121e" stroke-width="0.95"/>
<rect x="1015.75" y="352.4" width="2.7" height="13.2" fill="#e8121e"/>
<line x1="1020.90" y1="360.4" x2="1020.90" y2="376.9" stroke="#e8121e" stroke-width="0.95"/>
<rect x="1019.55" y="364.3" width="2.7" height="9.3" fill="#e8121e"/>
<line x1="1024.69" y1="357.0" x2="1024.69" y2="384.0" stroke="#317a8c" stroke-width="0.95"/>
<rect x="1023.34" y="368.3" width="2.7" height="5.3" fill="#4082ac"/>
<line x1="1028.49" y1="363.7" x2="1028.49" y2="417.0" stroke="#e8121e" stroke-width="0.95"/>
<rect x="1027.14" y="367.6" width="2.7" height="48.9" fill="#e8121e"/>
<line x1="1032.29" y1="412.8" x2="1032.29" y2="422.0" stroke="#e8121e" stroke-width="0.95"/>
<rect x="1030.94" y="416.8" width="2.7" height="1.9" fill="#e8121e"/>
<line x1="1036.08" y1="418.0" x2="1036.08" y2="434.0" stroke="#e8121e" stroke-width="0.95"/>
<rect x="1034.73" y="419.4" width="2.7" height="6.6" fill="#e8121e"/>
<line x1="1039.88" y1="415.4" x2="1039.88" y2="434.0" stroke="#e8121e" stroke-width="0.95"/>
<rect x="1038.53" y="420.7" width="2.7" height="11.9" fill="#e8121e"/>
<line x1="1043.68" y1="417.5" x2="1043.68" y2="434.7" stroke="#317a8c" stroke-width="0.95"/>
<rect x="1042.33" y="420.0" width="2.7" height="12.0" fill="#4082ac"/>
<line x1="1047.47" y1="404.3" x2="1047.47" y2="424.0" stroke="#e8121e" stroke-width="0.95"/>
<rect x="1046.12" y="421.5" width="2.7" height="1.3" fill="#e8121e"/>
<line x1="1051.27" y1="407.0" x2="1051.27" y2="431.0" stroke="#317a8c" stroke-width="0.95"/>
<rect x="1049.92" y="416.0" width="2.7" height="8.0" fill="#4082ac"/>
<line x1="1055.07" y1="400.4" x2="1055.07" y2="426.8" stroke="#317a8c" stroke-width="0.95"/>
<rect x="1053.72" y="403.7" width="2.7" height="16.5" fill="#4082ac"/>
<line x1="1058.87" y1="395.7" x2="1058.87" y2="409.6" stroke="#e8121e" stroke-width="0.95"/>
<rect x="1057.52" y="403.0" width="2.7" height="5.3" fill="#e8121e"/>
<line x1="1062.66" y1="391.0" x2="1062.66" y2="417.5" stroke="#317a8c" stroke-width="0.95"/>
<rect x="1061.31" y="393.0" width="2.7" height="16.6" fill="#4082ac"/>
<line x1="1066.46" y1="387.0" x2="1066.46" y2="404.3" stroke="#317a8c" stroke-width="0.95"/>
<rect x="1065.11" y="393.8" width="2.7" height="4.6" fill="#4082ac"/>
<line x1="1070.26" y1="378.0" x2="1070.26" y2="430.7" stroke="#e8121e" stroke-width="0.95"/>
<rect x="1068.91" y="395.0" width="2.7" height="29.0" fill="#e8121e"/>
<line x1="1074.05" y1="407.0" x2="1074.05" y2="425.4" stroke="#317a8c" stroke-width="0.95"/>
<rect x="1072.70" y="408.3" width="2.7" height="15.7" fill="#4082ac"/>
<line x1="1077.85" y1="386.8" x2="1077.85" y2="407.9" stroke="#317a8c" stroke-width="0.95"/>
<rect x="1076.50" y="390.0" width="2.7" height="15.0" fill="#4082ac"/>
<line x1="1081.65" y1="383.2" x2="1081.65" y2="400.4" stroke="#317a8c" stroke-width="0.95"/>
<rect x="1080.30" y="385.8" width="2.7" height="9.2" fill="#4082ac"/>
<line x1="1085.44" y1="380.6" x2="1085.44" y2="408.3" stroke="#e8121e" stroke-width="0.95"/>
<rect x="1084.10" y="387.2" width="2.7" height="17.1" fill="#e8121e"/>
<line x1="1089.24" y1="392.4" x2="1089.24" y2="422.8" stroke="#e8121e" stroke-width="0.95"/>
<rect x="1087.89" y="400.4" width="2.7" height="21.1" fill="#e8121e"/>
<line x1="1093.04" y1="411.0" x2="1093.04" y2="429.4" stroke="#e8121e" stroke-width="0.95"/>
<rect x="1091.69" y="420.2" width="2.7" height="6.6" fill="#e8121e"/>
<line x1="1096.84" y1="414.9" x2="1096.84" y2="426.8" stroke="#e8121e" stroke-width="0.95"/>
<rect x="1095.49" y="415.5" width="2.7" height="7.3" fill="#e8121e"/>
<line x1="1100.63" y1="420.2" x2="1100.63" y2="433.4" stroke="#e8121e" stroke-width="0.95"/>
<rect x="1099.28" y="421.5" width="2.7" height="5.3" fill="#e8121e"/>
<line x1="1104.43" y1="421.5" x2="1104.43" y2="447.9" stroke="#e8121e" stroke-width="0.95"/>
<rect x="1103.08" y="422.8" width="2.7" height="21.2" fill="#e8121e"/>
<line x1="1108.23" y1="437.3" x2="1108.23" y2="454.5" stroke="#e8121e" stroke-width="0.95"/>
<rect x="1106.88" y="441.3" width="2.7" height="9.2" fill="#e8121e"/>
<line x1="1112.02" y1="436.0" x2="1112.02" y2="454.5" stroke="#317a8c" stroke-width="0.95"/>
<rect x="1110.67" y="438.6" width="2.7" height="10.6" fill="#4082ac"/>
<line x1="1115.82" y1="426.8" x2="1115.82" y2="445.2" stroke="#317a8c" stroke-width="0.95"/>
<rect x="1114.47" y="430.7" width="2.7" height="10.6" fill="#4082ac"/>
<line x1="1119.62" y1="421.5" x2="1119.62" y2="434.7" stroke="#317a8c" stroke-width="0.95"/>
<rect x="1118.27" y="425.4" width="2.7" height="5.3" fill="#4082ac"/>
<line x1="1123.41" y1="418.8" x2="1123.41" y2="437.3" stroke="#317a8c" stroke-width="0.95"/>
<rect x="1122.07" y="421.5" width="2.7" height="6.5" fill="#4082ac"/>
<line x1="1127.21" y1="418.8" x2="1127.21" y2="440.0" stroke="#e8121e" stroke-width="0.95"/>
<rect x="1125.86" y="420.2" width="2.7" height="11.8" fill="#e8121e"/>
<line x1="1131.01" y1="420.2" x2="1131.01" y2="432.0" stroke="#317a8c" stroke-width="0.95"/>
<rect x="1129.66" y="422.8" width="2.7" height="7.9" fill="#4082ac"/>
<line x1="1134.81" y1="414.9" x2="1134.81" y2="425.4" stroke="#317a8c" stroke-width="0.95"/>
<rect x="1133.46" y="416.2" width="2.7" height="7.8" fill="#4082ac"/>
<line x1="1138.60" y1="414.9" x2="1138.60" y2="424.0" stroke="#e8121e" stroke-width="0.95"/>
<rect x="1137.25" y="417.5" width="2.7" height="5.3" fill="#e8121e"/>
<line x1="1142.40" y1="400.4" x2="1142.40" y2="434.7" stroke="#317a8c" stroke-width="0.95"/>
<rect x="1141.05" y="408.3" width="2.7" height="14.5" fill="#4082ac"/>
<line x1="1146.20" y1="392.4" x2="1146.20" y2="421.5" stroke="#e8121e" stroke-width="0.95"/>
<rect x="1144.85" y="409.0" width="2.7" height="5.9" fill="#e8121e"/>
<line x1="1149.99" y1="411.0" x2="1149.99" y2="428.0" stroke="#e8121e" stroke-width="0.95"/>
<rect x="1148.64" y="412.2" width="2.7" height="14.6" fill="#e8121e"/>
<line x1="1153.79" y1="412.2" x2="1153.79" y2="432.0" stroke="#317a8c" stroke-width="0.95"/>
<rect x="1152.44" y="414.9" width="2.7" height="13.1" fill="#4082ac"/>
<line x1="1157.59" y1="401.7" x2="1157.59" y2="416.2" stroke="#317a8c" stroke-width="0.95"/>
<rect x="1156.24" y="404.3" width="2.7" height="10.6" fill="#4082ac"/>
<line x1="1161.38" y1="402.3" x2="1161.38" y2="430.7" stroke="#e8121e" stroke-width="0.95"/>
<rect x="1160.04" y="404.3" width="2.7" height="19.7" fill="#e8121e"/>
<line x1="1165.18" y1="420.2" x2="1165.18" y2="430.7" stroke="#e8121e" stroke-width="0.95"/>
<rect x="1163.83" y="422.8" width="2.7" height="5.2" fill="#e8121e"/>
<line x1="1168.98" y1="416.2" x2="1168.98" y2="429.4" stroke="#317a8c" stroke-width="0.95"/>
<rect x="1167.63" y="420.2" width="2.7" height="6.6" fill="#4082ac"/>
<line x1="1172.78" y1="408.3" x2="1172.78" y2="416.2" stroke="#e8121e" stroke-width="0.95"/>
<rect x="1171.43" y="411.0" width="2.7" height="3.2" fill="#e8121e"/>
<line x1="1176.57" y1="408.3" x2="1176.57" y2="436.0" stroke="#e8121e" stroke-width="0.95"/>
<rect x="1175.22" y="413.6" width="2.7" height="18.4" fill="#e8121e"/>
<line x1="1180.37" y1="408.3" x2="1180.37" y2="434.7" stroke="#317a8c" stroke-width="0.95"/>
<rect x="1179.02" y="413.6" width="2.7" height="18.4" fill="#4082ac"/>
<line x1="1184.17" y1="409.6" x2="1184.17" y2="418.8" stroke="#e8121e" stroke-width="0.95"/>
<rect x="1182.82" y="412.2" width="2.7" height="3.3" fill="#e8121e"/>
<line x1="1187.96" y1="408.3" x2="1187.96" y2="420.2" stroke="#e8121e" stroke-width="0.95"/>
<rect x="1186.61" y="413.6" width="2.7" height="3.9" fill="#e8121e"/>
<line x1="1191.76" y1="407.0" x2="1191.76" y2="422.8" stroke="#317a8c" stroke-width="0.95"/>
<rect x="1190.41" y="409.6" width="2.7" height="9.2" fill="#4082ac"/>
<line x1="1195.56" y1="400.4" x2="1195.56" y2="413.6" stroke="#e8121e" stroke-width="0.95"/>
<rect x="1194.21" y="408.3" width="2.7" height="3.9" fill="#e8121e"/>
<line x1="1199.36" y1="389.8" x2="1199.36" y2="414.9" stroke="#317a8c" stroke-width="0.95"/>
<rect x="1198.01" y="391.8" width="2.7" height="21.8" fill="#4082ac"/>
<line x1="1203.15" y1="391.8" x2="1203.15" y2="413.6" stroke="#e8121e" stroke-width="0.95"/>
<rect x="1201.80" y="392.4" width="2.7" height="19.8" fill="#e8121e"/>
<line x1="1206.95" y1="383.2" x2="1206.95" y2="412.2" stroke="#317a8c" stroke-width="0.95"/>
<rect x="1205.60" y="384.5" width="2.7" height="26.5" fill="#4082ac"/>
<line x1="1210.75" y1="387.2" x2="1210.75" y2="395.0" stroke="#e8121e" stroke-width="0.95"/>
<rect x="1209.40" y="389.8" width="2.7" height="2.6" fill="#e8121e"/>
<line x1="1214.54" y1="388.5" x2="1214.54" y2="404.3" stroke="#317a8c" stroke-width="0.95"/>
<rect x="1213.19" y="389.8" width="2.7" height="4.0" fill="#4082ac"/>
<line x1="1218.34" y1="379.2" x2="1218.34" y2="399.0" stroke="#317a8c" stroke-width="0.95"/>
<rect x="1216.99" y="385.8" width="2.7" height="5.2" fill="#4082ac"/>
<line x1="1222.14" y1="381.9" x2="1222.14" y2="404.3" stroke="#e8121e" stroke-width="0.95"/>
<rect x="1220.79" y="384.5" width="2.7" height="15.9" fill="#e8121e"/>
<line x1="1225.93" y1="396.4" x2="1225.93" y2="403.0" stroke="#e8121e" stroke-width="0.95"/>
<rect x="1224.58" y="398.0" width="2.7" height="3.0" fill="#e8121e"/>
<line x1="1229.73" y1="399.0" x2="1229.73" y2="407.0" stroke="#e8121e" stroke-width="0.95"/>
<rect x="1228.38" y="401.0" width="2.7" height="4.6" fill="#e8121e"/>
<line x1="1233.53" y1="404.3" x2="1233.53" y2="425.4" stroke="#e8121e" stroke-width="0.95"/>
<rect x="1232.18" y="407.0" width="2.7" height="10.5" fill="#e8121e"/>
<line x1="1237.33" y1="417.5" x2="1237.33" y2="455.4" stroke="#e8121e" stroke-width="0.95"/>
<rect x="1235.98" y="418.2" width="2.7" height="31.8" fill="#e8121e"/>
<line x1="1241.12" y1="448.8" x2="1241.12" y2="463.3" stroke="#317a8c" stroke-width="0.95"/>
<rect x="1239.77" y="450.0" width="2.7" height="2.7" fill="#4082ac"/>
<line x1="1244.92" y1="433.0" x2="1244.92" y2="454.0" stroke="#317a8c" stroke-width="0.95"/>
<rect x="1243.57" y="435.6" width="2.7" height="14.4" fill="#4082ac"/>
<line x1="1248.72" y1="433.0" x2="1248.72" y2="443.5" stroke="#317a8c" stroke-width="0.95"/>
<rect x="1247.37" y="434.2" width="2.7" height="8.0" fill="#4082ac"/>
<line x1="1252.51" y1="430.3" x2="1252.51" y2="442.2" stroke="#e8121e" stroke-width="0.95"/>
<rect x="1251.16" y="433.0" width="2.7" height="6.5" fill="#e8121e"/>
<line x1="1256.31" y1="433.0" x2="1256.31" y2="454.0" stroke="#e8121e" stroke-width="0.95"/>
<rect x="1254.96" y="438.2" width="2.7" height="14.5" fill="#e8121e"/>
<line x1="1260.11" y1="446.0" x2="1260.11" y2="458.7" stroke="#e8121e" stroke-width="0.95"/>
<rect x="1258.76" y="448.8" width="2.7" height="7.9" fill="#e8121e"/>
<line x1="1263.90" y1="447.4" x2="1263.90" y2="462.0" stroke="#317a8c" stroke-width="0.95"/>
<rect x="1262.55" y="448.8" width="2.7" height="7.9" fill="#4082ac"/>
<line x1="1267.70" y1="456.7" x2="1267.70" y2="469.9" stroke="#317a8c" stroke-width="0.95"/>
<rect x="1266.35" y="459.3" width="2.7" height="7.9" fill="#4082ac"/>
<line x1="1271.50" y1="438.2" x2="1271.50" y2="464.6" stroke="#317a8c" stroke-width="0.95"/>
<rect x="1270.15" y="451.4" width="2.7" height="11.9" fill="#4082ac"/>
<line x1="1275.30" y1="446.0" x2="1275.30" y2="462.0" stroke="#e8121e" stroke-width="0.95"/>
<rect x="1273.95" y="450.0" width="2.7" height="10.6" fill="#e8121e"/>
<line x1="1279.09" y1="456.7" x2="1279.09" y2="468.6" stroke="#317a8c" stroke-width="0.95"/>
<rect x="1277.74" y="460.0" width="2.7" height="2.0" fill="#4082ac"/>
<line x1="1282.89" y1="448.0" x2="1282.89" y2="463.3" stroke="#317a8c" stroke-width="0.95"/>
<rect x="1281.54" y="451.4" width="2.7" height="9.2" fill="#4082ac"/>
<line x1="1286.69" y1="455.4" x2="1286.69" y2="479.0" stroke="#e8121e" stroke-width="0.95"/>
<rect x="1285.34" y="458.0" width="2.7" height="19.8" fill="#e8121e"/>
<line x1="1290.48" y1="471.2" x2="1290.48" y2="480.4" stroke="#e8121e" stroke-width="0.95"/>
<rect x="1289.13" y="475.2" width="2.7" height="1.9" fill="#e8121e"/>
<line x1="1294.28" y1="475.2" x2="1294.28" y2="487.0" stroke="#e8121e" stroke-width="0.95"/>
<rect x="1292.93" y="477.0" width="2.7" height="6.0" fill="#e8121e"/>
<line x1="1298.08" y1="480.4" x2="1298.08" y2="499.0" stroke="#e8121e" stroke-width="0.95"/>
<rect x="1296.73" y="483.0" width="2.7" height="14.6" fill="#e8121e"/>
<line x1="1301.87" y1="495.0" x2="1301.87" y2="506.8" stroke="#e8121e" stroke-width="0.95"/>
<rect x="1300.52" y="497.0" width="2.7" height="7.9" fill="#e8121e"/>
<line x1="1305.67" y1="480.4" x2="1305.67" y2="499.0" stroke="#e8121e" stroke-width="0.95"/>
<rect x="1304.32" y="488.4" width="2.7" height="2.6" fill="#e8121e"/>
<line x1="1309.47" y1="481.8" x2="1309.47" y2="504.2" stroke="#e8121e" stroke-width="0.95"/>
<rect x="1308.12" y="491.0" width="2.7" height="10.6" fill="#e8121e"/>
<line x1="1313.27" y1="493.6" x2="1313.27" y2="504.2" stroke="#e8121e" stroke-width="0.95"/>
<rect x="1311.92" y="499.0" width="2.7" height="2.6" fill="#e8121e"/>
<line x1="1317.06" y1="492.3" x2="1317.06" y2="505.5" stroke="#317a8c" stroke-width="0.95"/>
<rect x="1315.71" y="493.6" width="2.7" height="8.0" fill="#4082ac"/>
<line x1="1320.86" y1="480.4" x2="1320.86" y2="499.0" stroke="#317a8c" stroke-width="0.95"/>
<rect x="1319.51" y="481.8" width="2.7" height="11.8" fill="#4082ac"/>
<line x1="1324.66" y1="479.0" x2="1324.66" y2="488.4" stroke="#e8121e" stroke-width="0.95"/>
<rect x="1323.31" y="481.8" width="2.7" height="3.9" fill="#e8121e"/>
<line x1="1328.45" y1="480.4" x2="1328.45" y2="488.4" stroke="#317a8c" stroke-width="0.95"/>
<rect x="1327.10" y="484.4" width="2.7" height="2.0" fill="#4082ac"/>
<line x1="1332.25" y1="480.4" x2="1332.25" y2="491.0" stroke="#e8121e" stroke-width="0.95"/>
<rect x="1330.90" y="483.0" width="2.7" height="5.4" fill="#e8121e"/>
<line x1="1336.05" y1="479.0" x2="1336.05" y2="493.0" stroke="#e8121e" stroke-width="0.95"/>
<rect x="1334.70" y="484.4" width="2.7" height="5.3" fill="#e8121e"/>
<line x1="1339.84" y1="477.8" x2="1339.84" y2="493.6" stroke="#317a8c" stroke-width="0.95"/>
<rect x="1338.49" y="480.4" width="2.7" height="10.6" fill="#4082ac"/>
<line x1="1343.64" y1="462.0" x2="1343.64" y2="483.0" stroke="#317a8c" stroke-width="0.95"/>
<rect x="1342.29" y="464.6" width="2.7" height="17.2" fill="#4082ac"/>
<line x1="1347.44" y1="451.4" x2="1347.44" y2="471.2" stroke="#317a8c" stroke-width="0.95"/>
<rect x="1346.09" y="456.7" width="2.7" height="7.9" fill="#4082ac"/>
<line x1="1351.23" y1="452.7" x2="1351.23" y2="469.9" stroke="#e8121e" stroke-width="0.95"/>
<rect x="1349.88" y="455.4" width="2.7" height="13.2" fill="#e8121e"/>
<line x1="1355.03" y1="456.7" x2="1355.03" y2="468.6" stroke="#e8121e" stroke-width="0.95"/>
<rect x="1353.68" y="458.0" width="2.7" height="5.0" fill="#e8121e"/>
<line x1="1358.83" y1="448.0" x2="1358.83" y2="468.6" stroke="#317a8c" stroke-width="0.95"/>
<rect x="1357.48" y="451.4" width="2.7" height="13.2" fill="#4082ac"/>
<line x1="1362.63" y1="451.4" x2="1362.63" y2="471.2" stroke="#e8121e" stroke-width="0.95"/>
<rect x="1361.28" y="452.7" width="2.7" height="17.8" fill="#e8121e"/>
<line x1="1366.42" y1="468.6" x2="1366.42" y2="475.2" stroke="#317a8c" stroke-width="0.95"/>
<rect x="1365.07" y="469.9" width="2.7" height="2.6" fill="#4082ac"/>
<line x1="1370.22" y1="469.9" x2="1370.22" y2="483.0" stroke="#e8121e" stroke-width="0.95"/>
<rect x="1368.87" y="471.2" width="2.7" height="10.6" fill="#e8121e"/>
<line x1="1374.02" y1="479.0" x2="1374.02" y2="491.0" stroke="#e8121e" stroke-width="0.95"/>
<rect x="1372.67" y="480.4" width="2.7" height="8.0" fill="#e8121e"/>
<line x1="1377.81" y1="487.0" x2="1377.81" y2="506.8" stroke="#e8121e" stroke-width="0.95"/>
<rect x="1376.46" y="488.4" width="2.7" height="15.8" fill="#e8121e"/>
<line x1="1381.61" y1="499.0" x2="1381.61" y2="512.0" stroke="#e8121e" stroke-width="0.95"/>
<rect x="1380.26" y="502.9" width="2.7" height="8.6" fill="#e8121e"/>
<line x1="1385.41" y1="500.2" x2="1385.41" y2="519.6" stroke="#317a8c" stroke-width="0.95"/>
<rect x="1384.06" y="501.6" width="2.7" height="9.2" fill="#4082ac"/>
<line x1="1389.20" y1="488.4" x2="1389.20" y2="509.5" stroke="#317a8c" stroke-width="0.95"/>
<rect x="1387.86" y="493.6" width="2.7" height="10.6" fill="#4082ac"/>
<line x1="1393.00" y1="480.4" x2="1393.00" y2="501.6" stroke="#317a8c" stroke-width="0.95"/>
<rect x="1391.65" y="483.0" width="2.7" height="17.2" fill="#4082ac"/>
<line x1="1396.80" y1="479.0" x2="1396.80" y2="488.4" stroke="#317a8c" stroke-width="0.95"/>
<rect x="1395.45" y="483.0" width="2.7" height="4.0" fill="#4082ac"/>
<line x1="1400.60" y1="467.2" x2="1400.60" y2="481.8" stroke="#317a8c" stroke-width="0.95"/>
<rect x="1399.25" y="468.6" width="2.7" height="11.8" fill="#4082ac"/>
<line x1="1404.39" y1="463.3" x2="1404.39" y2="479.0" stroke="#e8121e" stroke-width="0.95"/>
<rect x="1403.04" y="464.6" width="2.7" height="13.2" fill="#e8121e"/>
<line x1="1408.19" y1="458.0" x2="1408.19" y2="472.5" stroke="#317a8c" stroke-width="0.95"/>
<rect x="1406.84" y="460.6" width="2.7" height="9.3" fill="#4082ac"/>
<line x1="1411.99" y1="451.4" x2="1411.99" y2="460.6" stroke="#317a8c" stroke-width="0.95"/>
<rect x="1410.64" y="452.7" width="2.7" height="7.9" fill="#4082ac"/>
<line x1="1415.78" y1="451.4" x2="1415.78" y2="455.4" stroke="#317a8c" stroke-width="0.95"/>
<rect x="1414.43" y="452.5" width="2.7" height="1.0" fill="#4082ac"/>
</g>
<polyline points="2.6,160.7 18.5,146.0 35.6,133.7 42.2,133.0 47.5,133.0 55.4,135.4 63.4,135.0 74.0,132.3 81.8,131.4 92.4,133.7 101.6,134.3 110.9,137.6 117.5,139.6 129.4,142.2 140.0,140.3 145.2,139.6 155.8,144.9 162.4,146.9 178.2,154.0 187.5,159.4 199.3,164.7 208.6,167.0 219.2,169.0 245.6,171.0 254.9,176.2 270.7,187.4 276.0,193.4 293.1,204.6 299.7,209.9 315.6,217.1 322.3,220.7 338.1,224.9 344.9,226.9 356.4,229.6 369.6,228.3 382.8,228.3 390.7,229.0 398.6,233.6 404.0,238.8 414.5,245.4 423.7,250.7 430.3,256.0 435.3,259.8 452.0,267.4 459.0,269.0 474.8,273.6 482.0,276.3 498.0,281.2 504.9,282.7 522.0,286.7 535.2,290.0 543.1,290.0 551.0,294.0 559.8,300.0 566.6,303.5 574.3,306.0 580.1,307.1 588.8,311.2 596.8,311.9 611.3,319.8 617.9,325.1 632.4,337.0 641.7,341.6 654.9,346.9 672.0,347.5 680.0,350.2 686.5,352.1 701.0,360.7 709.2,366.0 725.0,373.2 731.8,376.5 749.0,383.8 754.3,386.4 771.4,392.3 790.4,387.4 806.2,384.8 816.8,382.1 839.2,378.2 847.1,376.8 861.7,370.2 870.9,369.6 880.0,370.6 892.0,371.8 907.0,377.0 914.0,381.0 928.5,388.5 936.8,395.0 951.3,396.3 960.5,395.0 972.4,394.4 986.4,394.7 993.5,395.8 1012.4,392.8 1021.7,390.8 1031.5,392.1 1044.0,396.5 1052.0,398.2 1067.0,398.5 1075.0,399.2 1088.4,400.2 1097.0,402.5 1112.8,408.4 1119.5,409.0 1135.3,412.0 1149.6,412.9 1165.4,413.6 1180.0,413.6 1198.4,413.6 1210.6,411.9 1224.8,408.7 1229.7,408.4 1236.8,410.9 1249.6,414.7 1256.7,416.5 1272.2,422.2 1278.6,425.0 1294.9,433.2 1301.8,437.5 1317.7,446.8 1324.3,449.4 1341.5,454.7 1348.0,455.4 1363.9,456.7 1370.5,458.7 1385.0,465.3 1393.0,466.6 1407.5,467.2 1411.0,467.1" fill="none" stroke="#5e2e2e" stroke-width="1" stroke-dasharray="15 5"/>
<g stroke="#3e3e80" stroke-width="1.15" stroke-dasharray="3.3 2.4">
<line x1="18" y1="31.5" x2="1471" y2="31.5"/>
<line x1="18" y1="157.5" x2="1471" y2="157.5"/>
<line x1="18" y1="235.5" x2="1471" y2="235.5"/>
<line x1="18" y1="298.5" x2="1471" y2="298.5"/>
<line x1="18" y1="361.5" x2="1471" y2="361.5"/>
<line x1="18" y1="439.5" x2="1471" y2="439.5"/>
<line x1="18" y1="565.5" x2="1471" y2="565.5"/>
</g>
<g fill="#2c2c8a" stroke="#2c2c8a" stroke-width="0.18" font-size="8.7" text-anchor="end">
<text transform="translate(1470.5,28.90) scale(1,1.07)">100.0 @ 0.81356</text>
<text transform="translate(1470.5,154.90) scale(1,1.07)">76.4 @ 0.77984</text>
<text transform="translate(1470.5,232.90) scale(1,1.07)">61.8 @ 0.75898</text>
<text transform="translate(1470.5,295.90) scale(1,1.07)">50.0 @ 0.74212</text>
<text transform="translate(1470.5,358.90) scale(1,1.07)">38.2 @ 0.72526</text>
<text transform="translate(1470.5,436.90) scale(1,1.07)">23.6 @ 0.70440</text>
<text transform="translate(1470.5,562.90) scale(1,1.07)">0.0 @ 0.67068</text>
</g>
<g stroke="#28287a" stroke-width="1.05" fill="none">
<line x1="18.9" y1="31.6" x2="1396.1" y2="439.6"/>
<line x1="2.5" y1="237.9" x2="1266.7" y2="600.4"/>
</g>
<line x1="845.5" y1="392.6" x2="1369.7" y2="519.4" stroke="#c83434" stroke-width="1"/>
<g stroke="#000" stroke-width="1" fill="none" shape-rendering="crispEdges">
<path d="M2.5,2.5 H1471.5 V603.5 H2.5 Z"/>
<path d="M2.5,605.5 H1471.5 V686.5 H2.5 Z"/>
</g>
<line x1="2" y1="604.5" x2="1472" y2="604.5" stroke="#a8a8a8" stroke-width="1" shape-rendering="crispEdges"/>
<g stroke="#000" stroke-width="1" shape-rendering="crispEdges">
<line x1="1472" y1="5.5" x2="1475" y2="5.5"/>
<line x1="1472" y1="36.5" x2="1475" y2="36.5"/>
<line x1="1472" y1="67.5" x2="1475" y2="67.5"/>
<line x1="1472" y1="99.5" x2="1475" y2="99.5"/>
<line x1="1472" y1="130.5" x2="1475" y2="130.5"/>
<line x1="1472" y1="161.5" x2="1475" y2="161.5"/>
<line x1="1472" y1="193.5" x2="1475" y2="193.5"/>
<line x1="1472" y1="224.5" x2="1475" y2="224.5"/>
<line x1="1472" y1="256.5" x2="1475" y2="256.5"/>
<line x1="1472" y1="287.5" x2="1475" y2="287.5"/>
<line x1="1472" y1="318.5" x2="1475" y2="318.5"/>
<line x1="1472" y1="350.5" x2="1475" y2="350.5"/>
<line x1="1472" y1="381.5" x2="1475" y2="381.5"/>
<line x1="1472" y1="412.5" x2="1475" y2="412.5"/>
<line x1="1472" y1="444.5" x2="1475" y2="444.5"/>
<line x1="1472" y1="475.5" x2="1475" y2="475.5"/>
<line x1="1472" y1="506.5" x2="1475" y2="506.5"/>
<line x1="1472" y1="538.5" x2="1475" y2="538.5"/>
<line x1="1472" y1="569.5" x2="1475" y2="569.5"/>
<line x1="1472" y1="601.5" x2="1475" y2="601.5"/>
</g>
<g fill="#000" font-size="8.7" stroke="#000" stroke-width="0.2">
<text transform="translate(1477,8.03) scale(1,1.14)">0.82060</text>
<text transform="translate(1477,39.40) scale(1,1.14)">0.81235</text>
<text transform="translate(1477,70.77) scale(1,1.14)">0.80385</text>
<text transform="translate(1477,102.14) scale(1,1.14)">0.79560</text>
<text transform="translate(1477,133.51) scale(1,1.14)">0.78710</text>
<text transform="translate(1477,164.88) scale(1,1.14)">0.77885</text>
<text transform="translate(1477,196.25) scale(1,1.14)">0.77035</text>
<text transform="translate(1477,227.62) scale(1,1.14)">0.76185</text>
<text transform="translate(1477,258.99) scale(1,1.14)">0.75360</text>
<text transform="translate(1477,290.36) scale(1,1.14)">0.74510</text>
<text transform="translate(1477,321.73) scale(1,1.14)">0.73685</text>
<text transform="translate(1477,353.10) scale(1,1.14)">0.72835</text>
<text transform="translate(1477,384.47) scale(1,1.14)">0.72010</text>
<text transform="translate(1477,415.84) scale(1,1.14)">0.71160</text>
<text transform="translate(1477,447.21) scale(1,1.14)">0.70310</text>
<text transform="translate(1477,478.58) scale(1,1.14)">0.69485</text>
<text transform="translate(1477,509.95) scale(1,1.14)">0.68635</text>
<text transform="translate(1477,541.32) scale(1,1.14)">0.67810</text>
<text transform="translate(1477,572.69) scale(1,1.14)">0.66960</text>
<text transform="translate(1477,604.06) scale(1,1.14)">0.66135</text>
</g>
<rect x="1473" y="447.6" width="39" height="10" fill="#000"/>
<text x="1476.5" y="455.9" font-size="8.7" fill="#fff">0.70092</text>
<text x="7.6" y="13.4" font-size="8.9" fill="#000" stroke="#000" stroke-width="0.18" xml:space="preserve">AUDUSD,Daily  0.70086 0.70100 0.69982 0.70092</text>
<g stroke="#c4c4c4" stroke-width="1" stroke-dasharray="3 3" shape-rendering="crispEdges">
<line x1="3" y1="622.5" x2="1471" y2="622.5"/>
<line x1="3" y1="669.5" x2="1471" y2="669.5"/>
</g>
<polyline points="3.30,625.0 7.10,625.8 10.89,628.1 14.69,631.3 18.49,632.9 22.29,632.1 26.08,628.9 29.88,634.2 33.68,640.6 37.47,654.2 41.27,666.9 45.07,675.0 48.86,677.9 52.66,677.7 56.46,678.3 60.26,674.0 64.05,662.9 67.85,644.7 71.65,628.8 75.44,620.4 79.24,620.7 83.04,627.3 86.83,638.2 90.63,651.4 94.43,662.5 98.22,663.8 102.02,662.1 105.82,661.3 109.62,668.3 113.41,671.9 117.21,670.4 121.01,660.7 124.80,647.7 128.60,635.5 132.40,628.3 136.20,625.4 139.99,622.5 143.79,622.1 147.59,630.1 151.38,646.0 155.18,663.8 158.98,675.4 162.77,677.1 166.57,674.1 170.37,667.2 174.17,662.6 177.96,659.2 181.76,660.6 185.56,666.1 189.35,668.1 193.15,667.6 196.95,662.2 200.74,655.7 204.54,645.7 208.34,640.8 212.14,641.9 215.93,641.2 219.73,633.6 223.53,622.6 227.32,620.0 231.12,622.0 234.92,628.2 238.71,632.7 242.51,643.6 246.31,654.8 250.11,670.0 253.90,677.6 257.70,681.9 261.50,681.2 265.29,679.4 269.09,677.1 272.89,674.2 276.68,673.3 280.48,669.1 284.28,661.5 288.08,651.0 291.87,648.5 295.67,653.0 299.47,656.2 303.26,649.2 307.06,636.0 310.86,630.4 314.65,633.5 318.45,641.9 322.25,644.5 326.05,640.6 329.84,632.5 333.64,626.3 337.44,625.8 341.23,630.8 345.03,638.5 348.83,650.0 352.62,653.0 356.42,649.3 360.22,634.6 364.02,625.4 367.81,621.0 371.61,620.5 375.41,621.8 379.20,625.1 383.00,634.0 386.80,646.3 390.59,656.2 394.39,666.0 398.19,671.2 401.99,678.8 405.78,681.1 409.58,681.8 413.38,678.7 417.17,672.2 420.97,659.4 424.77,644.8 428.56,642.1 432.36,650.6 436.16,659.6 439.96,660.7 443.75,653.2 447.55,648.5 451.35,640.0 455.14,634.2 458.94,625.7 462.74,621.3 466.53,625.6 470.33,637.5 474.13,652.5 477.93,657.0 481.72,657.0 485.52,653.4 489.32,655.1 493.11,649.8 496.91,646.1 500.71,635.0 504.50,629.2 508.30,624.7 512.10,629.2 515.89,639.5 519.69,646.3 523.49,650.1 527.29,652.4 531.08,657.2 534.88,660.9 538.68,653.7 542.47,642.9 546.27,634.2 550.07,641.5 553.87,657.4 557.66,672.5 561.46,678.7 565.26,677.2 569.05,669.2 572.85,653.0 576.65,632.4 580.44,619.0 584.24,621.4 588.04,633.6 591.83,644.6 595.63,642.3 599.43,636.7 603.23,636.9 607.02,649.2 610.82,663.2 614.62,671.4 618.41,671.8 622.21,669.0 626.01,665.7 629.80,665.7 633.60,669.4 637.40,667.8 641.20,659.1 644.99,646.6 648.79,639.5 652.59,636.4 656.38,630.9 660.18,622.3 663.98,615.8 667.77,615.5 671.57,622.1 675.37,632.7 679.17,648.1 682.96,660.6 686.76,669.3 690.56,670.8 694.35,674.4 698.15,678.1 701.95,682.6 705.75,682.2 709.54,677.7 713.34,670.7 717.14,660.3 720.93,650.1 724.73,635.7 728.53,627.0 732.32,622.0 736.12,628.0 739.92,639.1 743.72,655.2 747.51,663.9 751.31,670.4 755.11,667.6 758.90,664.2 762.70,655.2 766.50,645.2 770.29,640.3 774.09,632.0 777.89,629.4 781.68,623.4 785.48,623.5 789.28,620.1 793.08,618.9 796.87,621.8 800.67,635.1 804.47,650.7 808.26,660.6 812.06,655.2 815.86,641.0 819.65,627.3 823.45,626.0 827.25,636.0 831.05,651.4 834.84,660.0 838.64,665.9 842.44,666.3 846.23,660.5 850.03,645.4 853.83,630.3 857.62,622.5 861.42,623.5 865.22,630.6 869.02,643.9 872.81,660.5 876.61,671.9 880.41,677.2 884.20,674.3 888.00,665.7 891.80,654.8 895.60,648.5 899.39,651.8 903.19,659.4 906.99,666.4 910.78,672.3 914.58,675.7 918.38,677.3 922.17,675.6 925.97,672.4 929.77,668.1 933.56,664.8 937.36,653.0 941.16,639.0 944.96,621.9 948.75,613.8 952.55,609.8 956.35,609.2 960.14,610.3 963.94,613.9 967.74,619.4 971.53,629.5 975.33,638.2 979.13,649.7 982.93,656.1 986.72,665.5 990.52,669.8 994.32,675.4 998.11,669.5 1001.91,659.9 1005.71,643.8 1009.50,634.1 1013.30,626.3 1017.10,623.4 1020.90,624.0 1024.69,630.2 1028.49,643.1 1032.29,657.2 1036.08,671.0 1039.88,678.2 1043.68,679.9 1047.47,677.2 1051.27,669.7 1055.07,655.5 1058.87,640.3 1062.66,627.3 1066.46,622.6 1070.26,626.1 1074.05,636.6 1077.85,646.7 1081.65,644.5 1085.44,637.5 1089.24,636.0 1093.04,648.0 1096.84,664.2 1100.63,674.5 1104.43,677.6 1108.23,677.5 1112.02,675.7 1115.82,668.8 1119.62,654.4 1123.41,637.1 1127.21,625.6 1131.01,621.6 1134.81,622.8 1138.60,622.3 1142.40,622.0 1146.20,625.8 1149.99,635.0 1153.79,646.4 1157.59,651.2 1161.38,651.5 1165.18,651.4 1168.98,657.2 1172.78,660.0 1176.57,660.8 1180.37,654.6 1184.17,650.2 1187.96,640.0 1191.76,632.1 1195.56,626.5 1199.36,624.1 1203.15,627.6 1206.95,627.2 1210.75,631.0 1214.54,625.9 1218.34,625.5 1222.14,626.4 1225.93,636.1 1229.73,651.3 1233.53,665.1 1237.33,674.6 1241.12,675.9 1244.92,673.3 1248.72,666.2 1252.51,657.5 1256.31,651.3 1260.11,652.1 1263.90,657.3 1267.70,662.6 1271.50,661.3 1275.30,659.2 1279.09,656.2 1282.89,656.0 1286.69,657.9 1290.48,662.1 1294.28,670.6 1298.08,676.2 1301.87,680.5 1305.67,678.8 1309.47,675.5 1313.27,669.6 1317.06,665.9 1320.86,656.7 1324.66,645.0 1328.45,630.7 1332.25,625.7 1336.05,627.7 1339.84,632.7 1343.64,631.8 1347.44,625.7 1351.23,621.8 1355.03,622.7 1358.83,626.7 1362.63,630.8 1366.42,638.5 1370.22,655.4 1374.02,669.6 1377.81,679.9 1381.61,681.0 1385.41,679.6 1389.20,672.1 1393.00,656.8 1396.80,640.0 1400.60,626.6 1404.39,618.7 1408.19,615.3 1411.99,614.2 1415.78,612.2" fill="none" stroke="#e83030" stroke-width="1"/>
<polyline points="3.30,624.8 7.10,625.9 10.89,628.5 14.69,637.6 18.49,631.3 22.29,629.7 26.08,625.9 29.88,640.6 33.68,652.6 37.47,669.4 41.27,678.6 45.07,677.1 48.86,678.0 52.66,678.1 56.46,678.9 60.26,665.0 64.05,644.7 67.85,624.3 71.65,617.3 75.44,619.6 79.24,625.2 83.04,637.1 86.83,652.4 90.63,664.7 94.43,670.5 98.22,656.0 102.02,659.8 105.82,668.2 109.62,676.9 113.41,670.7 117.21,663.5 121.01,647.9 124.80,631.8 128.60,626.8 132.40,626.2 136.20,623.1 139.99,618.1 143.79,625.2 147.59,646.9 151.38,665.9 155.18,678.7 158.98,681.6 162.77,671.1 166.57,669.7 170.37,660.8 174.17,657.3 177.96,659.4 181.76,665.0 185.56,673.9 189.35,665.4 193.15,663.6 196.95,657.6 200.74,646.0 204.54,633.5 208.34,642.8 212.14,649.4 215.93,631.4 219.73,620.0 223.53,616.5 227.32,623.6 231.12,626.0 234.92,634.9 238.71,637.2 242.51,658.6 246.31,668.7 250.11,682.6 253.90,681.4 257.70,681.7 261.50,680.4 265.29,676.2 269.09,674.7 272.89,671.5 276.68,673.8 280.48,661.9 284.28,648.8 288.08,642.2 291.87,654.4 295.67,662.4 299.47,651.6 303.26,633.4 307.06,623.0 310.86,634.7 314.65,642.7 318.45,648.4 322.25,642.3 326.05,631.0 329.84,624.1 333.64,623.6 337.44,629.6 341.23,639.2 345.03,646.5 348.83,664.3 352.62,648.2 356.42,635.3 360.22,620.3 364.02,620.5 367.81,622.2 371.61,618.7 375.41,624.7 379.20,632.1 383.00,645.2 386.80,661.8 390.59,661.8 394.39,674.4 398.19,677.4 401.99,684.6 405.78,681.3 409.58,679.4 413.38,675.5 417.17,661.7 420.97,640.9 424.77,631.8 428.56,653.7 432.36,666.2 436.16,659.0 439.96,657.1 443.75,643.4 447.55,645.0 451.35,631.5 455.14,626.3 458.94,619.5 462.74,618.2 466.53,638.9 470.33,655.3 474.13,663.2 477.93,652.4 481.72,655.3 485.52,652.4 489.32,657.6 493.11,639.5 496.91,641.1 500.71,624.6 504.50,622.1 508.30,627.3 512.10,638.2 515.89,653.0 519.69,647.6 523.49,649.6 527.29,660.0 531.08,662.1 534.88,660.6 538.68,638.3 542.47,629.7 546.27,634.6 550.07,660.3 553.87,677.1 557.66,680.0 561.46,678.8 565.26,672.7 569.05,656.2 572.85,630.1 576.65,611.0 580.44,615.7 584.24,637.5 588.04,647.7 591.83,648.7 595.63,630.6 599.43,631.0 603.23,649.2 607.02,667.5 610.82,672.8 614.62,673.8 618.41,668.7 622.21,664.4 626.01,663.9 629.80,668.8 633.60,675.4 637.40,659.3 641.20,642.6 644.99,637.8 648.79,638.0 652.59,633.5 656.38,621.3 660.18,612.0 663.98,614.0 667.77,620.4 671.57,632.0 675.37,645.6 679.17,666.8 682.96,669.2 686.76,671.8 690.56,671.3 694.35,680.0 698.15,683.0 701.95,684.8 705.75,678.8 709.54,669.5 713.34,664.0 717.14,647.3 720.93,639.1 724.73,620.8 728.53,621.0 732.32,624.1 736.12,638.9 739.92,654.2 743.72,672.5 747.51,665.0 751.31,673.7 755.11,664.2 758.90,654.8 762.70,646.7 766.50,634.2 770.29,639.8 774.09,621.8 777.89,626.6 781.68,621.8 785.48,622.0 789.28,616.6 793.08,618.2 796.87,630.5 800.67,656.5 804.47,665.2 808.26,660.1 812.06,640.4 815.86,622.4 819.65,619.1 823.45,636.6 827.25,652.4 831.05,665.3 834.84,662.4 838.64,670.0 842.44,666.7 846.23,644.9 850.03,624.7 853.83,621.2 857.62,621.5 861.42,627.7 865.22,642.7 869.02,661.2 872.81,677.7 876.61,677.0 880.41,677.0 884.20,668.8 888.00,651.1 891.80,644.4 895.60,650.1 899.39,661.1 903.19,667.2 906.99,671.1 910.78,678.6 914.58,677.6 918.38,675.8 922.17,673.3 925.97,668.2 929.77,662.9 933.56,663.3 937.36,632.8 941.16,621.0 944.96,611.9 948.75,608.6 952.55,609.0 956.35,610.0 960.14,611.9 963.94,619.8 967.74,626.6 971.53,642.0 975.33,646.0 979.13,661.1 982.93,661.1 986.72,674.4 990.52,673.9 994.32,677.9 998.11,656.9 1001.91,644.9 1005.71,629.6 1009.50,627.7 1013.30,621.7 1017.10,620.9 1020.90,629.5 1024.69,640.2 1028.49,659.5 1032.29,672.0 1036.08,681.4 1039.88,681.2 1043.68,677.2 1047.47,673.2 1051.27,658.6 1055.07,634.6 1058.87,627.8 1062.66,619.3 1066.46,620.6 1070.26,638.4 1074.05,650.7 1077.85,650.9 1081.65,631.8 1085.44,629.8 1089.24,646.2 1093.04,667.9 1096.84,678.4 1100.63,677.3 1104.43,677.0 1108.23,678.1 1112.02,672.1 1115.82,656.3 1119.62,634.9 1123.41,620.0 1127.21,621.8 1131.01,622.9 1134.81,623.6 1138.60,620.5 1142.40,621.9 1146.20,635.1 1149.99,648.0 1153.79,656.1 1157.59,649.6 1161.38,648.7 1165.18,655.9 1168.98,666.9 1172.78,657.2 1176.57,658.3 1180.37,648.3 1184.17,644.2 1187.96,627.5 1191.76,624.6 1195.56,627.3 1199.36,620.3 1203.15,635.3 1206.95,626.1 1210.75,631.7 1214.54,620.0 1218.34,624.9 1222.14,634.2 1225.93,649.1 1229.73,670.5 1233.53,675.6 1237.33,677.8 1241.12,674.4 1244.92,667.8 1248.72,656.6 1252.51,648.1 1256.31,649.3 1260.11,658.9 1263.90,663.8 1267.70,665.2 1271.50,654.8 1275.30,657.7 1279.09,656.0 1282.89,654.4 1286.69,663.2 1290.48,668.7 1294.28,679.7 1298.08,680.1 1301.87,681.5 1305.67,674.7 1309.47,670.4 1313.27,663.6 1317.06,663.6 1320.86,643.1 1324.66,628.4 1328.45,620.5 1332.25,628.2 1336.05,634.4 1339.84,635.6 1343.64,625.5 1347.44,616.1 1351.23,623.9 1355.03,628.1 1358.83,628.1 1362.63,636.3 1366.42,650.9 1370.22,679.0 1374.02,678.8 1377.81,681.8 1381.61,682.4 1385.41,674.4 1389.20,659.4 1393.00,636.6 1396.80,623.8 1400.60,615.0 1404.39,616.3 1408.19,615.0 1411.99,614.0 1415.78,611.6" fill="none" stroke="#1c1c8c" stroke-width="1"/>
<text transform="translate(7,617.8) scale(1,1.07)" font-size="8.7" fill="#000" stroke="#000" stroke-width="0.18">Stoch(5,3,3) 95.9868 92.5909</text>
<text transform="translate(1475,616.10) scale(1,1.12)" font-size="8.7" fill="#000" stroke="#000" stroke-width="0.2">100</text>
<text transform="translate(1475,626.40) scale(1,1.12)" font-size="8.7" fill="#000" stroke="#000" stroke-width="0.2">80</text>
<text transform="translate(1475,674.20) scale(1,1.12)" font-size="8.7" fill="#000" stroke="#000" stroke-width="0.2">20</text>
<text transform="translate(1475,683.40) scale(1,1.12)" font-size="8.7" fill="#000" stroke="#000" stroke-width="0.2">0</text>
<g stroke="#000" stroke-width="1" shape-rendering="crispEdges">
<line x1="1472" y1="607.5" x2="1474" y2="607.5"/>
</g>
<g stroke="#000" stroke-width="1" shape-rendering="crispEdges">
<line x1="3.5" y1="687" x2="3.5" y2="689"/>
<line x1="64.5" y1="687" x2="64.5" y2="689"/>
<line x1="125.5" y1="687" x2="125.5" y2="689"/>
<line x1="186.5" y1="687" x2="186.5" y2="689"/>
<line x1="246.5" y1="687" x2="246.5" y2="689"/>
<line x1="307.5" y1="687" x2="307.5" y2="689"/>
<line x1="368.5" y1="687" x2="368.5" y2="689"/>
<line x1="429.5" y1="687" x2="429.5" y2="689"/>
<line x1="489.5" y1="687" x2="489.5" y2="689"/>
<line x1="550.5" y1="687" x2="550.5" y2="689"/>
<line x1="611.5" y1="687" x2="611.5" y2="689"/>
<line x1="672.5" y1="687" x2="672.5" y2="689"/>
<line x1="732.5" y1="687" x2="732.5" y2="689"/>
<line x1="793.5" y1="687" x2="793.5" y2="689"/>
<line x1="854.5" y1="687" x2="854.5" y2="689"/>
<line x1="915.5" y1="687" x2="915.5" y2="689"/>
<line x1="975.5" y1="687" x2="975.5" y2="689"/>
<line x1="1036.5" y1="687" x2="1036.5" y2="689"/>
<line x1="1097.5" y1="687" x2="1097.5" y2="689"/>
<line x1="1158.5" y1="687" x2="1158.5" y2="689"/>
<line x1="1218.5" y1="687" x2="1218.5" y2="689"/>
<line x1="1279.5" y1="687" x2="1279.5" y2="689"/>
<line x1="1340.5" y1="687" x2="1340.5" y2="689"/>
<line x1="1401.5" y1="687" x2="1401.5" y2="689"/>
</g>
<g fill="#000" font-size="8.7" stroke="#000" stroke-width="0.2">
<text transform="translate(2.30,698.6) scale(1,1.15)">22 Jan 2018</text>
<text transform="translate(63.05,698.6) scale(1,1.15)">13 Feb 2018</text>
<text transform="translate(123.80,698.6) scale(1,1.15)">7 Mar 2018</text>
<text transform="translate(184.56,698.6) scale(1,1.15)">29 Mar 2018</text>
<text transform="translate(245.31,698.6) scale(1,1.15)">20 Apr 2018</text>
<text transform="translate(306.06,698.6) scale(1,1.15)">14 May 2018</text>
<text transform="translate(366.81,698.6) scale(1,1.15)">5 Jun 2018</text>
<text transform="translate(427.56,698.6) scale(1,1.15)">27 Jun 2018</text>
<text transform="translate(488.32,698.6) scale(1,1.15)">19 Jul 2018</text>
<text transform="translate(549.07,698.6) scale(1,1.15)">10 Aug 2018</text>
<text transform="translate(609.82,698.6) scale(1,1.15)">3 Sep 2018</text>
<text transform="translate(670.57,698.6) scale(1,1.15)">25 Sep 2018</text>
<text transform="translate(731.32,698.6) scale(1,1.15)">17 Oct 2018</text>
<text transform="translate(792.08,698.6) scale(1,1.15)">8 Nov 2018</text>
<text transform="translate(852.83,698.6) scale(1,1.15)">30 Nov 2018</text>
<text transform="translate(913.58,698.6) scale(1,1.15)">24 Dec 2018</text>
<text transform="translate(974.33,698.6) scale(1,1.15)">17 Jan 2019</text>
<text transform="translate(1035.08,698.6) scale(1,1.15)">8 Feb 2019</text>
<text transform="translate(1095.84,698.6) scale(1,1.15)">4 Mar 2019</text>
<text transform="translate(1156.59,698.6) scale(1,1.15)">26 Mar 2019</text>
<text transform="translate(1217.34,698.6) scale(1,1.15)">17 Apr 2019</text>
<text transform="translate(1278.09,698.6) scale(1,1.15)">9 May 2019</text>
<text transform="translate(1338.84,698.6) scale(1,1.15)">31 May 2019</text>
<text transform="translate(1399.60,698.6) scale(1,1.15)">24 Jun 2019</text>
</g>
</svg></body></html>
